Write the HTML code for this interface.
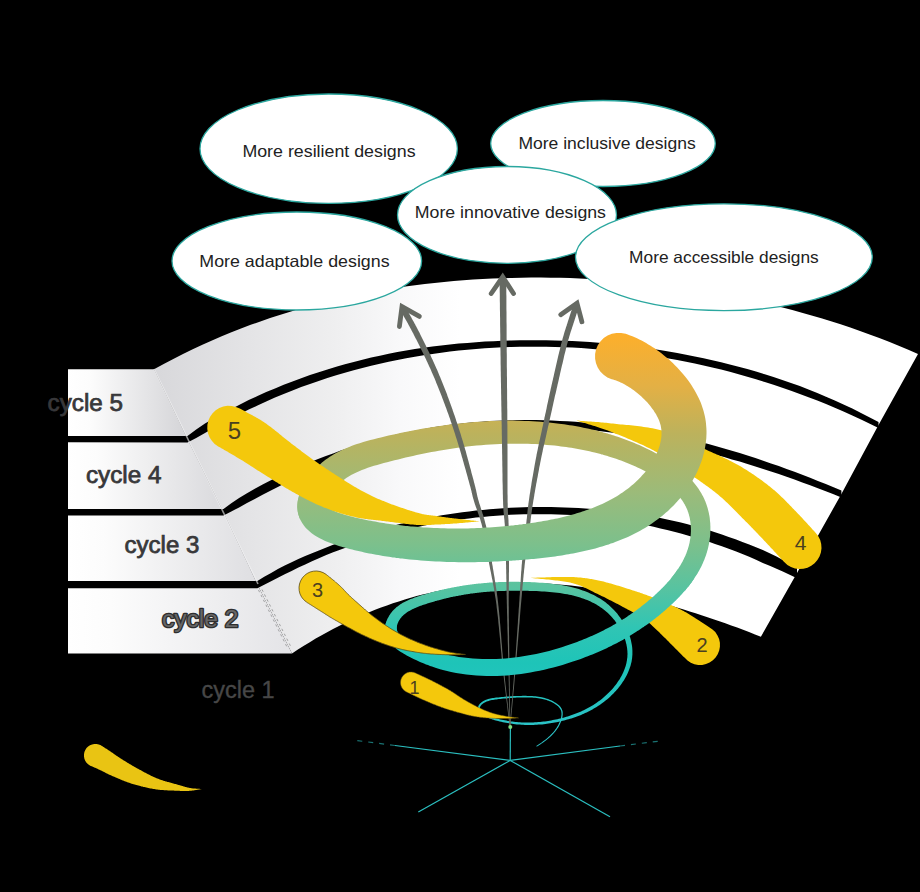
<!DOCTYPE html><html><head><meta charset="utf-8"><title>Design cycles</title><style>html,body{margin:0;padding:0;background:#000}</style></head><body><svg width="920" height="892" viewBox="0 0 920 892" style="display:block">
<defs>
<linearGradient id="sp" gradientUnits="userSpaceOnUse" x1="0" y1="335" x2="0" y2="730"><stop offset="0" stop-color="#fcaf2c"/><stop offset="0.13" stop-color="#e3b045"/><stop offset="0.25" stop-color="#bcb25c"/><stop offset="0.40" stop-color="#9bbb7a"/><stop offset="0.53" stop-color="#7cc08c"/><stop offset="0.64" stop-color="#58c3a0"/><stop offset="0.74" stop-color="#30c5b4"/><stop offset="0.83" stop-color="#1ec4b8"/><stop offset="1" stop-color="#2cc3c8"/></linearGradient>
<linearGradient id="ga0" gradientUnits="userSpaceOnUse" x1="150" y1="0" x2="460" y2="0"><stop offset="0" stop-color="#d7d7da"/><stop offset="0.32" stop-color="#e4e4e6"/><stop offset="0.58" stop-color="#eeeeef"/><stop offset="0.81" stop-color="#f9f9fa"/><stop offset="1" stop-color="#ffffff"/></linearGradient>
<linearGradient id="gr0" gradientUnits="userSpaceOnUse" x1="68" y1="0" x2="179" y2="0"><stop offset="0" stop-color="#ffffff"/><stop offset="0.2" stop-color="#fcfcfc"/><stop offset="1" stop-color="#d7d7da"/></linearGradient>
<linearGradient id="ga1" gradientUnits="userSpaceOnUse" x1="150" y1="0" x2="460" y2="0"><stop offset="0" stop-color="#d7d7da"/><stop offset="0.32" stop-color="#e4e4e6"/><stop offset="0.58" stop-color="#eeeeef"/><stop offset="0.81" stop-color="#f9f9fa"/><stop offset="1" stop-color="#ffffff"/></linearGradient>
<linearGradient id="gr1" gradientUnits="userSpaceOnUse" x1="68" y1="0" x2="214" y2="0"><stop offset="0" stop-color="#ffffff"/><stop offset="0.2" stop-color="#fcfcfc"/><stop offset="1" stop-color="#dcdcdf"/></linearGradient>
<linearGradient id="ga2" gradientUnits="userSpaceOnUse" x1="150" y1="0" x2="460" y2="0"><stop offset="0" stop-color="#d7d7da"/><stop offset="0.32" stop-color="#e4e4e6"/><stop offset="0.58" stop-color="#eeeeef"/><stop offset="0.81" stop-color="#f9f9fa"/><stop offset="1" stop-color="#ffffff"/></linearGradient>
<linearGradient id="gr2" gradientUnits="userSpaceOnUse" x1="68" y1="0" x2="248" y2="0"><stop offset="0" stop-color="#ffffff"/><stop offset="0.2" stop-color="#fcfcfc"/><stop offset="1" stop-color="#e0e0e3"/></linearGradient>
<linearGradient id="ga3" gradientUnits="userSpaceOnUse" x1="150" y1="0" x2="460" y2="0"><stop offset="0" stop-color="#d7d7da"/><stop offset="0.32" stop-color="#e4e4e6"/><stop offset="0.58" stop-color="#eeeeef"/><stop offset="0.81" stop-color="#f9f9fa"/><stop offset="1" stop-color="#ffffff"/></linearGradient>
<linearGradient id="gr3" gradientUnits="userSpaceOnUse" x1="68" y1="0" x2="283" y2="0"><stop offset="0" stop-color="#ffffff"/><stop offset="0.2" stop-color="#fcfcfc"/><stop offset="1" stop-color="#e5e5e8"/></linearGradient>
</defs>
<rect width="920" height="892" fill="#000"/>
<g id="bands">
<path d="M154.0,369.3 L163.7,364.0 L173.3,358.9 L183.0,354.0 L192.7,349.3 L202.4,344.7 L212.0,340.4 L221.7,336.2 L231.4,332.3 L241.0,328.5 L250.7,324.8 L260.4,321.4 L270.1,318.1 L279.7,314.9 L289.4,311.9 L299.1,309.1 L308.7,306.3 L318.4,303.8 L328.1,301.4 L337.7,299.1 L347.4,296.9 L357.1,294.9 L366.8,293.0 L376.4,291.2 L386.1,289.5 L395.8,288.0 L405.4,286.6 L415.1,285.2 L424.8,284.0 L434.5,282.9 L444.1,282.0 L453.8,281.1 L463.5,280.3 L473.1,279.6 L482.8,279.0 L492.5,278.6 L502.2,278.2 L511.8,277.9 L521.5,277.7 L531.2,277.6 L540.8,277.6 L550.5,277.7 L560.2,277.8 L569.8,278.1 L579.5,278.5 L589.2,278.9 L598.9,279.5 L608.5,280.1 L618.2,280.8 L627.9,281.6 L637.5,282.5 L647.2,283.5 L656.9,284.6 L666.6,285.8 L676.2,287.1 L685.9,288.4 L695.6,289.9 L705.2,291.4 L714.9,293.1 L724.6,294.9 L734.3,296.7 L743.9,298.7 L753.6,300.7 L763.3,302.9 L772.9,305.2 L782.6,307.6 L792.3,310.1 L801.9,312.7 L811.6,315.4 L821.3,318.3 L831.0,321.2 L840.6,324.3 L850.3,327.5 L860.0,330.9 L869.6,334.4 L879.3,338.0 L889.0,341.8 L898.7,345.7 L908.3,349.8 L918.0,354.0 L878.5,425.0 L869.8,420.5 L861.0,416.2 L852.3,412.0 L843.5,408.0 L834.8,404.1 L826.0,400.4 L817.3,396.8 L808.5,393.4 L799.8,390.1 L791.0,386.9 L782.3,383.8 L773.5,380.9 L764.8,378.1 L756.0,375.4 L747.3,372.9 L738.6,370.5 L729.8,368.1 L721.1,365.9 L712.3,363.8 L703.6,361.8 L694.8,360.0 L686.1,358.2 L677.3,356.5 L668.6,355.0 L659.8,353.5 L651.1,352.2 L642.3,350.9 L633.6,349.7 L624.8,348.7 L616.1,347.7 L607.3,346.8 L598.6,346.1 L589.9,345.4 L581.1,344.8 L572.4,344.4 L563.6,344.0 L554.9,343.7 L546.1,343.5 L537.4,343.4 L528.6,343.4 L519.9,343.5 L511.1,343.7 L502.4,344.0 L493.6,344.5 L484.9,345.0 L476.1,345.6 L467.4,346.3 L458.7,347.1 L449.9,348.1 L441.2,349.1 L432.4,350.3 L423.7,351.5 L414.9,352.9 L406.2,354.4 L397.4,356.1 L388.7,357.8 L379.9,359.7 L371.2,361.7 L362.4,363.8 L353.7,366.1 L344.9,368.5 L336.2,371.0 L327.4,373.7 L318.7,376.5 L310.0,379.5 L301.2,382.6 L292.5,385.9 L283.7,389.4 L275.0,393.0 L266.2,396.8 L257.5,400.8 L248.7,404.9 L240.0,409.2 L231.2,413.7 L222.5,418.4 L213.7,423.3 L205.0,428.4 L196.2,433.7 L187.5,439.2Z" fill="url(#ga0)"/>
<path d="M68,369.3 L154.0,369.3 L187.5,439.2 L68,439.2Z" fill="url(#gr0)"/>
<path d="M187.5,439.2 L196.2,433.7 L205.0,428.4 L213.7,423.3 L222.5,418.4 L231.2,413.7 L240.0,409.2 L248.7,404.9 L257.5,400.8 L266.2,396.8 L275.0,393.0 L283.7,389.4 L292.5,385.9 L301.2,382.6 L310.0,379.5 L318.7,376.5 L327.4,373.7 L336.2,371.0 L344.9,368.5 L353.7,366.1 L362.4,363.8 L371.2,361.7 L379.9,359.7 L388.7,357.8 L397.4,356.1 L406.2,354.4 L414.9,352.9 L423.7,351.5 L432.4,350.3 L441.2,349.1 L449.9,348.1 L458.7,347.1 L467.4,346.3 L476.1,345.6 L484.9,345.0 L493.6,344.5 L502.4,344.0 L511.1,343.7 L519.9,343.5 L528.6,343.4 L537.4,343.4 L546.1,343.5 L554.9,343.7 L563.6,344.0 L572.4,344.4 L581.1,344.8 L589.9,345.4 L598.6,346.1 L607.3,346.8 L616.1,347.7 L624.8,348.7 L633.6,349.7 L642.3,350.9 L651.1,352.2 L659.8,353.5 L668.6,355.0 L677.3,356.5 L686.1,358.2 L694.8,360.0 L703.6,361.8 L712.3,363.8 L721.1,365.9 L729.8,368.1 L738.6,370.5 L747.3,372.9 L756.0,375.4 L764.8,378.1 L773.5,380.9 L782.3,383.8 L791.0,386.9 L799.8,390.1 L808.5,393.4 L817.3,396.8 L826.0,400.4 L834.8,404.1 L843.5,408.0 L852.3,412.0 L861.0,416.2 L869.8,420.5 L878.5,425.0 L841.4,494.0 L833.6,490.8 L825.8,487.6 L817.9,484.6 L810.1,481.5 L802.3,478.6 L794.5,475.7 L786.6,472.9 L778.8,470.1 L771.0,467.4 L763.2,464.8 L755.4,462.3 L747.5,459.8 L739.7,457.4 L731.9,455.0 L724.1,452.8 L716.3,450.6 L708.4,448.5 L700.6,446.4 L692.8,444.5 L685.0,442.6 L677.1,440.8 L669.3,439.1 L661.5,437.5 L653.7,435.9 L645.9,434.5 L638.0,433.1 L630.2,431.8 L622.4,430.6 L614.6,429.5 L606.8,428.4 L598.9,427.5 L591.1,426.6 L583.3,425.9 L575.5,425.2 L567.6,424.7 L559.8,424.2 L552.0,423.8 L544.2,423.6 L536.4,423.4 L528.5,423.3 L520.7,423.4 L512.9,423.5 L505.1,423.7 L497.3,424.1 L489.4,424.5 L481.6,425.1 L473.8,425.8 L466.0,426.6 L458.1,427.4 L450.3,428.4 L442.5,429.6 L434.7,430.8 L426.9,432.1 L419.0,433.6 L411.2,435.2 L403.4,436.9 L395.6,438.7 L387.8,440.7 L379.9,442.8 L372.1,445.0 L364.3,447.3 L356.5,449.7 L348.6,452.3 L340.8,455.0 L333.0,457.9 L325.2,460.9 L317.4,464.0 L309.5,467.2 L301.7,470.6 L293.9,474.1 L286.1,477.8 L278.3,481.6 L270.4,485.5 L262.6,489.6 L254.8,493.8 L247.0,498.2 L239.1,502.7 L231.3,507.4 L223.5,512.2Z" fill="url(#ga1)"/>
<path d="M68,439.2 L187.5,439.2 L223.5,512.2 L68,512.2Z" fill="url(#gr1)"/>
<path d="M223.5,512.2 L231.3,507.4 L239.1,502.7 L247.0,498.2 L254.8,493.8 L262.6,489.6 L270.4,485.5 L278.3,481.6 L286.1,477.8 L293.9,474.1 L301.7,470.6 L309.5,467.2 L317.4,464.0 L325.2,460.9 L333.0,457.9 L340.8,455.0 L348.6,452.3 L356.5,449.7 L364.3,447.3 L372.1,445.0 L379.9,442.8 L387.8,440.7 L395.6,438.7 L403.4,436.9 L411.2,435.2 L419.0,433.6 L426.9,432.1 L434.7,430.8 L442.5,429.6 L450.3,428.4 L458.1,427.4 L466.0,426.6 L473.8,425.8 L481.6,425.1 L489.4,424.5 L497.3,424.1 L505.1,423.7 L512.9,423.5 L520.7,423.4 L528.5,423.3 L536.4,423.4 L544.2,423.6 L552.0,423.8 L559.8,424.2 L567.6,424.7 L575.5,425.2 L583.3,425.9 L591.1,426.6 L598.9,427.5 L606.8,428.4 L614.6,429.5 L622.4,430.6 L630.2,431.8 L638.0,433.1 L645.9,434.5 L653.7,435.9 L661.5,437.5 L669.3,439.1 L677.1,440.8 L685.0,442.6 L692.8,444.5 L700.6,446.4 L708.4,448.5 L716.3,450.6 L724.1,452.8 L731.9,455.0 L739.7,457.4 L747.5,459.8 L755.4,462.3 L763.2,464.8 L771.0,467.4 L778.8,470.1 L786.6,472.9 L794.5,475.7 L802.3,478.6 L810.1,481.5 L817.9,484.6 L825.8,487.6 L833.6,490.8 L841.4,494.0 L797.0,573.0 L790.2,569.4 L783.3,566.0 L776.5,562.7 L769.7,559.5 L762.8,556.4 L756.0,553.5 L749.2,550.6 L742.4,547.9 L735.5,545.3 L728.7,542.8 L721.9,540.4 L715.0,538.1 L708.2,535.9 L701.4,533.8 L694.5,531.8 L687.7,529.9 L680.9,528.1 L674.1,526.4 L667.2,524.8 L660.4,523.2 L653.6,521.8 L646.7,520.5 L639.9,519.2 L633.1,518.1 L626.2,517.0 L619.4,516.0 L612.6,515.1 L605.7,514.3 L598.9,513.5 L592.1,512.9 L585.3,512.3 L578.4,511.8 L571.6,511.4 L564.8,511.1 L557.9,510.8 L551.1,510.7 L544.3,510.6 L537.4,510.6 L530.6,510.6 L523.8,510.8 L517.0,511.0 L510.1,511.3 L503.3,511.7 L496.5,512.2 L489.6,512.7 L482.8,513.4 L476.0,514.1 L469.1,514.9 L462.3,515.7 L455.5,516.7 L448.7,517.7 L441.8,518.8 L435.0,520.0 L428.2,521.3 L421.3,522.7 L414.5,524.2 L407.7,525.7 L400.8,527.3 L394.0,529.1 L387.2,530.9 L380.3,532.8 L373.5,534.8 L366.7,536.9 L359.9,539.1 L353.0,541.4 L346.2,543.8 L339.4,546.2 L332.5,548.8 L325.7,551.5 L318.9,554.3 L312.0,557.2 L305.2,560.3 L298.4,563.4 L291.6,566.6 L284.7,570.0 L277.9,573.5 L271.1,577.1 L264.2,580.8 L257.4,584.6Z" fill="url(#ga2)"/>
<path d="M68,512.2 L223.5,512.2 L257.4,584.6 L68,584.6Z" fill="url(#gr2)"/>
<path d="M257.4,584.6 L264.2,580.8 L271.1,577.1 L277.9,573.5 L284.7,570.0 L291.6,566.6 L298.4,563.4 L305.2,560.3 L312.0,557.2 L318.9,554.3 L325.7,551.5 L332.5,548.8 L339.4,546.2 L346.2,543.8 L353.0,541.4 L359.9,539.1 L366.7,536.9 L373.5,534.8 L380.3,532.8 L387.2,530.9 L394.0,529.1 L400.8,527.3 L407.7,525.7 L414.5,524.2 L421.3,522.7 L428.2,521.3 L435.0,520.0 L441.8,518.8 L448.7,517.7 L455.5,516.7 L462.3,515.7 L469.1,514.9 L476.0,514.1 L482.8,513.4 L489.6,512.7 L496.5,512.2 L503.3,511.7 L510.1,511.3 L517.0,511.0 L523.8,510.8 L530.6,510.6 L537.4,510.6 L544.3,510.6 L551.1,510.7 L557.9,510.8 L564.8,511.1 L571.6,511.4 L578.4,511.8 L585.3,512.3 L592.1,512.9 L598.9,513.5 L605.7,514.3 L612.6,515.1 L619.4,516.0 L626.2,517.0 L633.1,518.1 L639.9,519.2 L646.7,520.5 L653.6,521.8 L660.4,523.2 L667.2,524.8 L674.1,526.4 L680.9,528.1 L687.7,529.9 L694.5,531.8 L701.4,533.8 L708.2,535.9 L715.0,538.1 L721.9,540.4 L728.7,542.8 L735.5,545.3 L742.4,547.9 L749.2,550.6 L756.0,553.5 L762.8,556.4 L769.7,559.5 L776.5,562.7 L783.3,566.0 L790.2,569.4 L797.0,573.0 L760.9,636.7 L755.0,634.4 L749.0,632.1 L743.1,629.8 L737.2,627.6 L731.2,625.4 L725.3,623.3 L719.4,621.2 L713.4,619.2 L707.5,617.2 L701.5,615.2 L695.6,613.3 L689.7,611.4 L683.7,609.6 L677.8,607.8 L671.9,606.1 L665.9,604.4 L660.0,602.8 L654.1,601.2 L648.1,599.7 L642.2,598.3 L636.3,596.9 L630.3,595.5 L624.4,594.2 L618.4,593.0 L612.5,591.9 L606.6,590.8 L600.6,589.7 L594.7,588.8 L588.8,587.9 L582.8,587.1 L576.9,586.3 L571.0,585.6 L565.0,585.0 L559.1,584.5 L553.2,584.0 L547.2,583.6 L541.3,583.3 L535.4,583.0 L529.4,582.9 L523.5,582.8 L517.5,582.8 L511.6,582.9 L505.7,583.0 L499.7,583.3 L493.8,583.6 L487.9,584.0 L481.9,584.5 L476.0,585.1 L470.1,585.8 L464.1,586.6 L458.2,587.4 L452.3,588.4 L446.3,589.4 L440.4,590.6 L434.5,591.8 L428.5,593.2 L422.6,594.6 L416.6,596.1 L410.7,597.8 L404.8,599.5 L398.8,601.4 L392.9,603.3 L387.0,605.4 L381.0,607.5 L375.1,609.8 L369.2,612.2 L363.2,614.7 L357.3,617.3 L351.4,620.0 L345.4,622.8 L339.5,625.7 L333.5,628.8 L327.6,632.0 L321.7,635.2 L315.7,638.6 L309.8,642.2 L303.9,645.8 L297.9,649.6 L292.0,653.5Z" fill="url(#ga3)"/>
<path d="M68,584.6 L257.4,584.6 L292.0,653.5 L68,653.5Z" fill="url(#gr3)"/>
<path d="M68.0,436.0 L187.5,436.0 L196.2,429.4 L205.0,423.6 L213.7,418.5 L222.5,413.6 L231.2,408.9 L240.0,404.4 L248.7,400.1 L257.5,396.0 L266.2,392.1 L275.0,388.4 L283.7,384.8 L292.5,381.4 L301.2,378.2 L310.0,375.1 L318.7,372.2 L327.4,369.4 L336.2,366.8 L344.9,364.3 L353.7,361.9 L362.4,359.7 L371.2,357.6 L379.9,355.7 L388.7,353.8 L397.4,352.1 L406.2,350.6 L414.9,349.1 L423.7,347.8 L432.4,346.6 L441.2,345.5 L449.9,344.5 L458.7,343.6 L467.4,342.9 L476.1,342.2 L484.9,341.6 L493.6,341.2 L502.4,340.8 L511.1,340.5 L519.9,340.3 L528.6,340.2 L537.4,340.2 L546.1,340.2 L554.9,340.4 L563.6,340.7 L572.4,341.1 L581.1,341.5 L589.9,342.1 L598.6,342.7 L607.3,343.5 L616.1,344.3 L624.8,345.3 L633.6,346.3 L642.3,347.5 L651.1,348.7 L659.8,350.1 L668.6,351.5 L677.3,353.0 L686.1,354.7 L694.8,356.4 L703.6,358.3 L712.3,360.2 L721.1,362.3 L729.8,364.4 L738.6,366.7 L747.3,369.1 L756.0,371.6 L764.8,374.3 L773.5,377.0 L782.3,379.9 L791.0,382.9 L799.8,386.1 L808.5,389.4 L817.3,393.0 L826.0,396.7 L834.8,400.5 L843.5,404.4 L852.3,408.6 L861.0,412.9 L869.8,417.4 L878.5,422.0 L878.5,428.0 L869.8,423.7 L861.0,419.5 L852.3,415.5 L843.5,411.6 L834.8,407.8 L826.0,404.1 L817.3,400.6 L808.5,397.3 L799.8,394.1 L791.0,390.8 L782.3,387.8 L773.5,384.8 L764.8,382.0 L756.0,379.3 L747.3,376.7 L738.6,374.2 L729.8,371.8 L721.1,369.6 L712.3,367.5 L703.6,365.4 L694.8,363.5 L686.1,361.7 L677.3,360.0 L668.6,358.4 L659.8,357.0 L651.1,355.6 L642.3,354.3 L633.6,353.1 L624.8,352.1 L616.1,351.1 L607.3,350.2 L598.6,349.4 L589.9,348.7 L581.1,348.1 L572.4,347.6 L563.6,347.3 L554.9,347.0 L546.1,346.8 L537.4,346.7 L528.6,346.7 L519.9,346.8 L511.1,346.9 L502.4,347.2 L493.6,347.7 L484.9,348.3 L476.1,349.0 L467.4,349.7 L458.7,350.6 L449.9,351.6 L441.2,352.7 L432.4,353.9 L423.7,355.3 L414.9,356.7 L406.2,358.3 L397.4,360.0 L388.7,361.8 L379.9,363.7 L371.2,365.7 L362.4,367.9 L353.7,370.2 L344.9,372.7 L336.2,375.3 L327.4,378.0 L318.7,380.9 L310.0,383.9 L301.2,387.1 L292.5,390.5 L283.7,394.0 L275.0,397.6 L266.2,401.5 L257.5,405.5 L248.7,409.6 L240.0,414.0 L231.2,418.5 L222.5,423.2 L213.7,428.1 L205.0,433.1 L196.2,437.9 L187.5,442.4 L68.0,442.3Z" fill="#000"/>
<path d="M68.0,509.1 L223.5,508.9 L231.3,503.3 L239.1,498.1 L247.0,493.3 L254.8,488.8 L262.6,484.5 L270.4,480.4 L278.3,476.5 L286.1,472.8 L293.9,469.2 L301.7,465.8 L309.5,462.5 L317.4,459.3 L325.2,456.3 L333.0,453.4 L340.8,450.6 L348.6,448.0 L356.5,445.5 L364.3,443.1 L372.1,440.8 L379.9,438.7 L387.8,436.7 L395.6,434.8 L403.4,433.0 L411.2,431.4 L419.0,429.9 L426.9,428.4 L434.7,427.1 L442.5,425.9 L450.3,424.8 L458.1,423.9 L466.0,423.0 L473.8,422.3 L481.6,421.7 L489.4,421.1 L497.3,420.7 L505.1,420.4 L512.9,420.2 L520.7,420.1 L528.5,420.1 L536.4,420.1 L544.2,420.3 L552.0,420.5 L559.8,420.9 L567.6,421.3 L575.5,421.8 L583.3,422.5 L591.1,423.2 L598.9,424.0 L606.8,424.9 L614.6,425.9 L622.4,427.0 L630.2,428.1 L638.0,429.3 L645.9,430.6 L653.7,432.0 L661.5,433.4 L669.3,435.0 L677.1,436.6 L685.0,438.3 L692.8,440.1 L700.6,442.0 L708.4,444.0 L716.3,446.2 L724.1,448.4 L731.9,450.7 L739.7,453.1 L747.5,455.6 L755.4,458.1 L763.2,460.7 L771.0,463.4 L778.8,466.1 L786.6,468.9 L794.5,471.8 L802.3,474.8 L810.1,477.8 L817.9,480.9 L825.8,484.0 L833.6,487.2 L841.4,490.5 L841.4,497.5 L833.6,494.3 L825.8,491.3 L817.9,488.2 L810.1,485.3 L802.3,482.4 L794.5,479.6 L786.6,476.8 L778.8,474.1 L771.0,471.5 L763.2,468.9 L755.4,466.4 L747.5,464.0 L739.7,461.6 L731.9,459.4 L724.1,457.1 L716.3,455.0 L708.4,452.9 L700.6,450.9 L692.8,448.9 L685.0,446.9 L677.1,445.0 L669.3,443.2 L661.5,441.5 L653.7,439.9 L645.9,438.3 L638.0,436.9 L630.2,435.5 L622.4,434.2 L614.6,433.0 L606.8,431.9 L598.9,431.0 L591.1,430.1 L583.3,429.3 L575.5,428.6 L567.6,428.1 L559.8,427.6 L552.0,427.2 L544.2,426.9 L536.4,426.7 L528.5,426.6 L520.7,426.6 L512.9,426.8 L505.1,427.1 L497.3,427.5 L489.4,427.9 L481.6,428.5 L473.8,429.3 L466.0,430.1 L458.1,431.0 L450.3,432.0 L442.5,433.2 L434.7,434.5 L426.9,435.9 L419.0,437.4 L411.2,439.0 L403.4,440.8 L395.6,442.7 L387.8,444.7 L379.9,446.8 L372.1,449.1 L364.3,451.5 L356.5,454.0 L348.6,456.7 L340.8,459.4 L333.0,462.4 L325.2,465.4 L317.4,468.6 L309.5,471.9 L301.7,475.4 L293.9,479.0 L286.1,482.8 L278.3,486.7 L270.4,490.7 L262.6,494.8 L254.8,498.9 L247.0,503.1 L239.1,507.4 L231.3,511.5 L223.5,515.5 L68.0,515.4Z" fill="#000"/>
<path d="M68.0,580.9 L257.4,580.9 L264.2,576.8 L271.1,572.9 L277.9,569.1 L284.7,565.6 L291.6,562.3 L298.4,559.1 L305.2,556.1 L312.0,553.2 L318.9,550.4 L325.7,547.8 L332.5,545.1 L339.4,542.5 L346.2,540.1 L353.0,537.7 L359.9,535.4 L366.7,533.3 L373.5,531.2 L380.3,529.2 L387.2,527.3 L394.0,525.5 L400.8,523.8 L407.7,522.2 L414.5,520.7 L421.3,519.2 L428.2,517.8 L435.0,516.5 L441.8,515.3 L448.7,514.2 L455.5,513.2 L462.3,512.2 L469.1,511.4 L476.0,510.6 L482.8,509.9 L489.6,509.2 L496.5,508.7 L503.3,508.2 L510.1,507.8 L517.0,507.5 L523.8,507.2 L530.6,507.1 L537.4,507.0 L544.3,507.0 L551.1,507.0 L557.9,507.2 L564.8,507.4 L571.6,507.7 L578.4,508.1 L585.3,508.6 L592.1,509.0 L598.9,509.6 L605.7,510.2 L612.6,510.9 L619.4,511.6 L626.2,512.5 L633.1,513.5 L639.9,514.5 L646.7,515.6 L653.6,516.8 L660.4,518.1 L667.2,519.5 L674.1,521.0 L680.9,522.6 L687.7,524.3 L694.5,526.2 L701.4,528.1 L708.2,530.1 L715.0,532.3 L721.9,534.5 L728.7,536.9 L735.5,539.3 L742.4,541.9 L749.2,544.5 L756.0,547.2 L762.8,550.0 L769.7,553.2 L776.5,556.6 L783.3,560.2 L790.2,563.9 L797.0,567.7 L797.0,578.2 L790.2,574.9 L783.3,571.8 L776.5,568.7 L769.7,565.8 L762.8,562.9 L756.0,559.8 L749.2,556.8 L742.4,554.0 L735.5,551.3 L728.7,548.7 L721.9,546.2 L715.0,543.9 L708.2,541.6 L701.4,539.5 L694.5,537.4 L687.7,535.5 L680.9,533.6 L674.1,531.8 L667.2,530.0 L660.4,528.4 L653.6,526.8 L646.7,525.3 L639.9,524.0 L633.1,522.7 L626.2,521.5 L619.4,520.3 L612.6,519.3 L605.7,518.4 L598.9,517.5 L592.1,516.7 L585.3,516.0 L578.4,515.5 L571.6,515.1 L564.8,514.8 L557.9,514.5 L551.1,514.3 L544.3,514.2 L537.4,514.2 L530.6,514.2 L523.8,514.3 L517.0,514.5 L510.1,514.8 L503.3,515.2 L496.5,515.7 L489.6,516.2 L482.8,516.9 L476.0,517.6 L469.1,518.4 L462.3,519.2 L455.5,520.2 L448.7,521.2 L441.8,522.3 L435.0,523.5 L428.2,524.8 L421.3,526.2 L414.5,527.7 L407.7,529.2 L400.8,530.8 L394.0,532.6 L387.2,534.4 L380.3,536.4 L373.5,538.4 L366.7,540.5 L359.9,542.7 L353.0,545.0 L346.2,547.4 L339.4,550.0 L332.5,552.6 L325.7,555.3 L318.9,558.2 L312.0,561.2 L305.2,564.4 L298.4,567.6 L291.6,571.0 L284.7,574.3 L277.9,577.8 L271.1,581.3 L264.2,584.7 L257.4,588.3 L68.0,588.3Z" fill="#000"/>
</g>
<path d="M154,369 L258,584" stroke="#f4f4f5" stroke-width="1.6" fill="none" opacity="0.6"/>
<path d="M258.5,590 L288,649 M262,589.5 L291.5,648" stroke="#555" stroke-width="0.6" stroke-dasharray="2.5 3" opacity="0.8" fill="none"/>
<g font-family="'Liberation Sans', sans-serif" font-size="23">
<text x="47.6" y="411.2" textLength="75.3" lengthAdjust="spacingAndGlyphs" fill="#38383a" stroke="#38383a" stroke-width="0.75">cycle 5</text>
<text x="86" y="483" textLength="75.4" lengthAdjust="spacingAndGlyphs" fill="#38383a" stroke="#38383a" stroke-width="0.75">cycle 4</text>
<text x="124.5" y="553" textLength="74.8" lengthAdjust="spacingAndGlyphs" fill="#38383a" stroke="#38383a" stroke-width="0.75">cycle 3</text>
<text x="162" y="626.5" textLength="76.5" lengthAdjust="spacingAndGlyphs" stroke="#2e2e2e" stroke-width="2.6" stroke-linejoin="round" paint-order="stroke" fill="#666">cycle 2</text>
<text x="201.6" y="698" textLength="72.9" lengthAdjust="spacingAndGlyphs" fill="#474747" stroke="#474747" stroke-width="0.35">cycle 1</text>
</g>
<g font-family="'Liberation Sans', sans-serif" font-size="16.5" fill="#222">
<ellipse cx="328.7" cy="148.7" rx="128.7" ry="54.7" fill="#fff" stroke="#2ba79f" stroke-width="1.3"/>
<text x="242.4" y="157.4" textLength="173.2" lengthAdjust="spacingAndGlyphs">More resilient designs</text>
<ellipse cx="603" cy="143.5" rx="112.3" ry="43" fill="#fff" stroke="#2ba79f" stroke-width="1.3"/>
<text x="518.4" y="148.6" textLength="177.4" lengthAdjust="spacingAndGlyphs">More inclusive designs</text>
<ellipse cx="296.8" cy="261" rx="124.8" ry="49" fill="#fff" stroke="#2ba79f" stroke-width="1.3"/>
<text x="199.3" y="267" textLength="190.3" lengthAdjust="spacingAndGlyphs">More adaptable designs</text>
<ellipse cx="507" cy="214.9" rx="109.5" ry="48.4" fill="#fff" stroke="#2ba79f" stroke-width="1.3"/>
<text x="414.8" y="218.3" textLength="191.2" lengthAdjust="spacingAndGlyphs">More innovative designs</text>
<ellipse cx="723.9" cy="257.2" rx="148.4" ry="53.4" fill="#fff" stroke="#2ba79f" stroke-width="1.3"/>
<text x="629.1" y="263.3" textLength="189.6" lengthAdjust="spacingAndGlyphs">More accessible designs</text>
</g>
<path d="M576.5,420.5 L577.9,421.0 L579.4,421.4 L580.8,421.9 L582.2,422.3 L583.5,422.7 L584.9,423.1 L586.3,423.6 L587.7,424.0 L589.0,424.4 L590.4,424.8 L591.8,425.2 L593.2,425.7 L594.6,426.1 L596.0,426.5 L597.4,427.0 L598.8,427.4 L600.2,427.9 L601.7,428.4 L603.2,428.9 L604.7,429.5 L606.2,430.0 L607.8,430.6 L609.4,431.2 L611.0,431.8 L612.7,432.5 L614.4,433.2 L616.2,433.9 L618.0,434.6 L619.9,435.3 L621.7,436.1 L623.6,436.8 L625.5,437.6 L627.5,438.4 L629.4,439.2 L631.3,440.0 L633.3,440.9 L635.2,441.7 L637.1,442.5 L639.0,443.4 L640.9,444.2 L642.8,445.1 L644.7,446.0 L646.5,446.9 L648.2,447.7 L650.0,448.6 L651.7,449.5 L653.3,450.3 L654.9,451.2 L656.5,452.1 L658.0,453.0 L659.6,453.9 L661.1,454.8 L662.7,455.8 L664.2,456.7 L665.8,457.7 L667.3,458.7 L668.8,459.7 L670.4,460.7 L671.9,461.8 L673.5,462.8 L675.0,463.9 L676.6,464.9 L678.1,466.0 L679.6,467.0 L681.1,468.1 L682.7,469.2 L684.2,470.2 L685.7,471.3 L687.2,472.3 L688.7,473.4 L690.2,474.4 L691.7,475.4 L693.2,476.4 L694.5,477.4 L695.9,478.3 L697.3,479.2 L698.6,480.1 L699.9,481.0 L701.1,481.9 L702.4,482.8 L703.6,483.7 L704.8,484.5 L706.0,485.4 L707.2,486.2 L708.3,487.1 L709.5,487.9 L710.6,488.8 L711.7,489.6 L712.8,490.4 L713.8,491.3 L714.9,492.1 L716.0,492.9 L717.0,493.8 L718.0,494.6 L719.1,495.5 L720.1,496.4 L721.1,497.2 L722.1,498.1 L723.1,499.1 L724.2,500.0 L725.2,500.9 L726.2,501.9 L727.2,502.8 L728.2,503.8 L729.2,504.8 L730.2,505.8 L731.2,506.8 L732.2,507.8 L733.2,508.7 L734.2,509.7 L735.2,510.7 L736.2,511.7 L737.2,512.7 L738.1,513.7 L739.1,514.7 L740.1,515.7 L741.1,516.7 L742.0,517.7 L743.0,518.7 L743.9,519.6 L744.8,520.5 L745.7,521.4 L746.6,522.2 L747.4,523.1 L748.3,524.0 L749.1,524.8 L750.0,525.7 L750.8,526.6 L751.6,527.4 L752.5,528.3 L753.3,529.2 L754.2,530.1 L755.0,530.9 L755.9,531.8 L756.7,532.7 L757.6,533.6 L758.4,534.5 L759.3,535.4 L760.1,536.3 L761.0,537.2 L761.9,538.1 L762.8,539.1 L763.6,540.0 L764.5,540.9 L765.4,541.8 L766.2,542.7 L767.0,543.5 L767.8,544.4 L768.6,545.3 L769.4,546.1 L770.2,547.0 L771.0,547.9 L771.9,548.7 L772.7,549.6 L773.5,550.5 L774.3,551.4 L775.1,552.3 L775.9,553.1 L776.7,554.0 L777.6,554.9 L778.4,555.8 L779.2,556.7 L780.0,557.6 L780.9,558.5 L781.7,559.4 L782.6,560.3 L783.4,561.2 L784.2,562.1 L787.4,564.9 L791.0,567.0 L795.0,568.4 L799.2,569.0 L803.4,568.7 L807.5,567.7 L811.3,565.8 L814.6,563.3 L817.4,560.1 L819.5,556.5 L820.9,552.5 L821.5,548.3 L821.2,544.1 L820.2,540.0 L818.3,536.2 L815.8,532.9 L814.9,532.0 L814.1,531.1 L813.3,530.2 L812.5,529.4 L811.7,528.5 L810.9,527.6 L810.1,526.7 L809.3,525.8 L808.4,524.9 L807.6,524.0 L806.8,523.1 L806.0,522.2 L805.1,521.3 L804.3,520.4 L803.4,519.5 L802.6,518.5 L801.7,517.6 L800.9,516.7 L800.0,515.8 L799.1,514.8 L798.2,513.9 L797.3,513.0 L796.4,512.0 L795.5,511.1 L794.6,510.2 L793.8,509.3 L792.9,508.4 L792.0,507.5 L791.2,506.6 L790.3,505.7 L789.4,504.8 L788.5,503.8 L787.6,502.9 L786.7,502.0 L785.7,501.0 L784.8,500.1 L783.8,499.1 L782.8,498.1 L781.8,497.2 L780.8,496.2 L779.8,495.2 L778.8,494.2 L777.7,493.3 L776.6,492.3 L775.5,491.3 L774.4,490.3 L773.2,489.4 L772.1,488.4 L770.9,487.5 L769.8,486.6 L768.6,485.7 L767.5,484.7 L766.3,483.8 L765.1,482.9 L763.8,482.0 L762.6,481.1 L761.3,480.1 L760.1,479.2 L758.8,478.3 L757.5,477.4 L756.2,476.4 L754.8,475.5 L753.5,474.6 L752.1,473.7 L750.8,472.8 L749.4,471.9 L748.0,471.0 L746.6,470.1 L745.2,469.2 L743.8,468.4 L742.4,467.5 L740.9,466.6 L739.5,465.8 L738.1,465.0 L736.6,464.2 L735.2,463.4 L733.8,462.7 L732.4,461.9 L731.0,461.2 L729.5,460.5 L728.1,459.8 L726.7,459.1 L725.3,458.4 L723.9,457.7 L722.5,457.1 L721.0,456.4 L719.6,455.8 L718.2,455.1 L716.7,454.5 L715.3,453.8 L713.8,453.2 L712.3,452.5 L710.8,451.8 L709.3,451.2 L707.8,450.5 L706.3,449.8 L704.8,449.1 L703.3,448.4 L701.7,447.6 L700.1,446.9 L698.5,446.1 L696.9,445.2 L695.2,444.4 L693.5,443.6 L691.8,442.7 L690.0,441.8 L688.3,441.0 L686.5,440.1 L684.6,439.2 L682.8,438.4 L680.9,437.5 L679.0,436.7 L677.1,435.8 L675.2,435.0 L673.2,434.2 L671.2,433.5 L669.2,432.8 L667.2,432.1 L665.2,431.4 L663.1,430.8 L661.0,430.2 L658.9,429.7 L656.8,429.2 L654.6,428.7 L652.5,428.3 L650.3,427.9 L648.1,427.5 L645.9,427.2 L643.7,426.9 L641.5,426.6 L639.4,426.3 L637.2,426.0 L635.0,425.8 L632.9,425.6 L630.7,425.3 L628.6,425.1 L626.5,424.9 L624.5,424.7 L622.5,424.5 L620.5,424.4 L618.5,424.2 L616.7,424.0 L614.8,423.8 L613.0,423.6 L611.2,423.4 L609.5,423.2 L607.8,423.0 L606.2,422.8 L604.5,422.7 L602.9,422.5 L601.4,422.4 L599.8,422.3 L598.3,422.1 L596.8,422.0 L595.4,421.9 L593.9,421.8 L592.4,421.7 L591.0,421.6 L589.6,421.5 L588.1,421.4 L586.7,421.3 L585.3,421.2 L583.9,421.1 L582.4,421.0 L581.0,420.9 L579.5,420.7 L578.0,420.6 L576.5,420.5Z" fill="#f4c80c"/>
<path d="M327.4,506.9 L327.1,506.3 L327.0,506.2 L326.9,506.2 L326.9,506.1 L326.8,506.0 L326.8,505.6 L326.8,505.4 L326.8,505.0 L326.8,504.4 L327.0,503.8 L327.1,503.1 L327.3,502.2 L327.6,501.4 L327.9,500.5 L328.3,499.5 L328.7,498.5 L329.2,497.6 L329.7,496.6 L330.2,495.6 L330.7,494.7 L331.6,493.1 L332.5,491.7 L333.5,490.4 L334.5,489.1 L335.5,487.8 L336.5,486.6 L337.6,485.4 L338.8,484.2 L339.9,483.1 L341.1,482.1 L342.4,481.0 L343.6,480.0 L345.0,479.0 L346.2,478.1 L348.7,476.6 L351.1,475.1 L353.7,473.7 L356.3,472.4 L359.1,471.2 L361.9,470.0 L364.8,468.9 L367.8,467.8 L370.9,466.8 L374.0,465.8 L377.2,464.9 L380.5,464.0 L383.8,463.1 L387.1,462.2 L390.8,461.2 L394.5,460.3 L398.2,459.4 L401.9,458.5 L405.6,457.6 L409.3,456.7 L413.0,455.9 L416.7,455.1 L420.4,454.3 L424.1,453.6 L427.8,452.8 L431.5,452.1 L435.2,451.4 L438.9,450.8 L443.6,450.0 L448.3,449.2 L453.0,448.5 L457.7,447.8 L462.4,447.2 L467.1,446.6 L471.8,446.1 L476.5,445.6 L481.2,445.2 L485.9,444.8 L490.6,444.5 L495.3,444.2 L499.9,444.0 L504.6,443.8 L508.5,443.7 L512.3,443.7 L516.2,443.7 L520.1,443.7 L523.9,443.7 L527.8,443.8 L531.6,443.9 L535.4,444.1 L539.3,444.3 L543.1,444.6 L546.9,444.9 L550.8,445.2 L554.6,445.6 L558.4,446.1 L561.0,446.4 L563.6,446.7 L566.2,447.1 L568.8,447.4 L571.4,447.8 L574.0,448.3 L576.6,448.7 L579.2,449.2 L581.8,449.7 L584.4,450.2 L586.9,450.7 L589.5,451.3 L592.1,451.9 L594.6,452.5 L595.6,452.8 L596.6,453.0 L597.6,453.3 L598.6,453.5 L599.6,453.8 L600.6,454.1 L601.6,454.4 L602.6,454.6 L603.6,454.9 L604.6,455.2 L605.6,455.5 L606.6,455.8 L607.6,456.1 L608.6,456.4 L611.1,457.2 L613.6,458.0 L616.1,458.8 L618.6,459.7 L621.0,460.6 L623.5,461.5 L625.9,462.5 L628.4,463.4 L630.8,464.5 L633.2,465.5 L635.6,466.6 L638.0,467.7 L640.4,468.8 L642.8,470.0 L644.8,471.0 L646.8,472.0 L648.8,473.1 L650.8,474.2 L652.7,475.3 L654.7,476.4 L656.6,477.6 L658.4,478.8 L660.3,480.0 L662.1,481.2 L663.8,482.4 L665.6,483.7 L667.2,485.0 L668.9,486.3 L670.1,487.3 L671.2,488.3 L672.4,489.4 L673.5,490.4 L674.6,491.4 L675.6,492.5 L676.7,493.6 L677.6,494.7 L678.6,495.8 L679.5,496.9 L680.4,498.0 L681.3,499.2 L682.1,500.3 L682.9,501.6 L683.4,502.3 L683.9,503.2 L684.4,504.0 L684.9,504.8 L685.3,505.7 L685.8,506.5 L686.2,507.4 L686.6,508.3 L687.0,509.2 L687.4,510.1 L687.7,511.0 L688.0,511.9 L688.4,512.8 L688.6,513.7 L688.9,514.6 L689.1,515.5 L689.4,516.4 L689.6,517.3 L689.8,518.3 L690.0,519.2 L690.1,520.2 L690.3,521.1 L690.4,522.1 L690.5,523.1 L690.6,524.1 L690.7,525.0 L690.8,526.0 L690.8,527.0 L690.9,527.8 L690.9,528.7 L690.9,529.5 L690.9,530.3 L690.9,531.1 L690.9,532.0 L690.8,532.8 L690.8,533.6 L690.7,534.4 L690.7,535.2 L690.6,536.1 L690.5,536.9 L690.4,537.7 L690.3,538.5 L690.1,539.4 L690.0,540.3 L689.8,541.1 L689.7,542.0 L689.5,542.9 L689.3,543.8 L689.1,544.6 L688.9,545.5 L688.6,546.4 L688.4,547.2 L688.1,548.1 L687.9,548.9 L687.6,549.8 L687.3,550.6 L687.0,551.5 L686.7,552.3 L686.4,553.2 L686.1,554.0 L685.7,554.8 L685.4,555.7 L685.0,556.5 L684.6,557.3 L684.2,558.1 L683.8,558.9 L683.4,559.8 L683.0,560.6 L682.6,561.4 L682.1,562.2 L681.7,563.0 L681.2,563.8 L680.7,564.7 L680.3,565.5 L679.8,566.3 L679.2,567.1 L678.7,567.9 L678.2,568.7 L677.7,569.5 L677.1,570.3 L676.6,571.1 L676.0,571.9 L675.4,572.7 L674.9,573.5 L674.2,574.3 L673.6,575.2 L672.9,576.0 L672.2,576.9 L671.6,577.7 L670.9,578.6 L685.1,590.5 L685.9,589.5 L686.6,588.6 L687.4,587.6 L688.2,586.7 L689.0,585.7 L689.7,584.7 L690.4,583.8 L691.1,582.9 L691.8,582.0 L692.4,581.1 L693.1,580.1 L693.8,579.2 L694.4,578.2 L695.0,577.3 L695.6,576.3 L696.3,575.3 L696.9,574.4 L697.5,573.4 L698.0,572.4 L698.6,571.4 L699.2,570.4 L699.7,569.4 L700.2,568.5 L700.8,567.5 L701.3,566.4 L701.8,565.4 L702.2,564.4 L702.7,563.4 L703.2,562.3 L703.6,561.3 L704.1,560.3 L704.5,559.2 L704.9,558.1 L705.3,557.1 L705.7,556.0 L706.1,554.9 L706.4,553.8 L706.8,552.7 L707.1,551.6 L707.4,550.5 L707.7,549.4 L708.0,548.3 L708.3,547.1 L708.5,546.0 L708.8,544.8 L709.0,543.7 L709.2,542.5 L709.4,541.4 L709.6,540.3 L709.7,539.2 L709.8,538.2 L710.0,537.1 L710.1,536.0 L710.2,535.0 L710.2,533.9 L710.3,532.8 L710.3,531.8 L710.4,530.7 L710.4,529.6 L710.4,528.5 L710.4,527.4 L710.4,526.3 L710.3,525.0 L710.3,523.7 L710.2,522.4 L710.0,521.1 L709.9,519.8 L709.8,518.5 L709.6,517.1 L709.4,515.8 L709.1,514.5 L708.9,513.3 L708.6,512.0 L708.3,510.7 L708.0,509.4 L707.6,508.1 L707.2,506.8 L706.8,505.5 L706.3,504.1 L705.9,502.9 L705.4,501.6 L704.8,500.3 L704.3,499.1 L703.7,497.8 L703.1,496.6 L702.5,495.4 L701.8,494.2 L701.2,493.0 L700.5,491.9 L699.7,490.7 L698.7,489.1 L697.6,487.5 L696.5,485.9 L695.3,484.4 L694.1,482.9 L692.9,481.4 L691.6,480.0 L690.3,478.6 L689.0,477.2 L687.6,475.8 L686.2,474.5 L684.8,473.2 L683.4,471.9 L681.9,470.6 L680.0,469.0 L678.0,467.4 L676.0,465.9 L673.9,464.4 L671.8,462.9 L669.7,461.5 L667.6,460.1 L665.4,458.8 L663.2,457.4 L661.1,456.2 L658.9,454.9 L656.7,453.7 L654.4,452.5 L652.2,451.3 L649.6,450.0 L647.0,448.7 L644.4,447.5 L641.8,446.3 L639.2,445.1 L636.5,444.0 L633.9,442.8 L631.2,441.8 L628.5,440.7 L625.9,439.7 L623.2,438.7 L620.5,437.8 L617.8,436.8 L615.1,436.0 L614.0,435.6 L613.0,435.3 L611.9,434.9 L610.8,434.6 L609.7,434.3 L608.6,433.9 L607.6,433.6 L606.5,433.3 L605.4,433.0 L604.3,432.7 L603.2,432.4 L602.1,432.1 L601.0,431.8 L599.9,431.5 L597.2,430.8 L594.5,430.1 L591.7,429.5 L588.9,428.8 L586.2,428.2 L583.4,427.7 L580.6,427.1 L577.9,426.6 L575.1,426.1 L572.3,425.6 L569.5,425.2 L566.8,424.7 L564.0,424.3 L561.2,424.0 L557.1,423.4 L553.1,423.0 L549.0,422.5 L544.9,422.2 L540.9,421.8 L536.8,421.5 L532.7,421.3 L528.6,421.1 L524.5,420.9 L520.5,420.8 L516.4,420.7 L512.3,420.6 L508.2,420.6 L504.1,420.7 L499.2,420.8 L494.2,420.9 L489.3,421.1 L484.3,421.4 L479.4,421.7 L474.5,422.1 L469.5,422.5 L464.6,422.9 L459.6,423.4 L454.7,424.0 L449.8,424.6 L444.8,425.3 L439.9,426.0 L435.0,426.7 L431.1,427.3 L427.2,428.0 L423.3,428.6 L419.5,429.3 L415.6,430.0 L411.7,430.8 L407.9,431.5 L404.0,432.3 L400.2,433.1 L396.3,433.9 L392.4,434.8 L388.6,435.6 L384.7,436.5 L380.9,437.4 L377.4,438.3 L373.9,439.2 L370.4,440.1 L366.8,441.0 L363.3,442.1 L359.7,443.2 L356.1,444.3 L352.6,445.6 L349.1,446.9 L345.5,448.4 L342.0,450.0 L338.6,451.7 L335.1,453.5 L331.9,455.5 L329.8,456.8 L327.8,458.2 L325.8,459.6 L323.9,461.0 L322.0,462.6 L320.2,464.2 L318.3,465.9 L316.5,467.6 L314.8,469.4 L313.1,471.3 L311.4,473.3 L309.8,475.4 L308.3,477.5 L306.8,479.6 L305.9,481.2 L304.9,482.7 L304.0,484.3 L303.2,485.9 L302.3,487.5 L301.5,489.2 L300.8,490.9 L300.1,492.7 L299.4,494.5 L298.9,496.3 L298.4,498.2 L297.9,500.2 L297.6,502.2 L297.4,504.4 L297.3,506.9 L297.5,509.5 L297.8,512.1 L298.4,514.6 L299.2,517.1 L299.9,518.8Z" fill="url(#sp)"/>
<path d="M397.0,630.4 L396.9,629.8 L396.8,629.3 L396.7,628.8 L396.7,628.3 L396.7,627.7 L396.7,627.0 L396.8,626.8 L396.8,626.5 L396.9,626.1 L397.0,625.8 L397.0,625.4 L397.1,625.0 L397.3,624.7 L397.4,624.3 L397.5,623.9 L397.7,623.5 L397.8,623.1 L398.0,622.7 L398.1,622.4 L398.3,622.0 L398.5,621.5 L398.8,621.1 L399.0,620.7 L399.2,620.2 L399.5,619.8 L399.8,619.4 L400.1,619.0 L400.3,618.6 L400.6,618.2 L401.0,617.8 L401.3,617.4 L401.6,617.0 L401.9,616.6 L402.3,616.3 L402.9,615.7 L403.5,615.1 L404.2,614.5 L404.8,613.9 L405.5,613.4 L406.2,612.9 L407.0,612.3 L407.8,611.8 L408.6,611.3 L409.4,610.9 L410.2,610.4 L411.1,609.9 L411.9,609.5 L412.8,609.0 L413.7,608.7 L414.5,608.3 L415.4,607.9 L416.2,607.5 L417.1,607.2 L418.0,606.8 L418.9,606.5 L419.8,606.1 L420.7,605.8 L421.7,605.5 L422.6,605.1 L423.5,604.8 L424.5,604.5 L425.4,604.2 L426.3,603.9 L427.2,603.6 L428.1,603.3 L429.0,603.0 L429.9,602.8 L430.8,602.5 L431.7,602.2 L432.6,601.9 L433.5,601.7 L434.4,601.4 L435.3,601.1 L436.2,600.9 L437.1,600.6 L438.0,600.4 L438.9,600.2 L439.8,599.9 L440.7,599.7 L441.6,599.5 L442.4,599.2 L443.3,599.0 L444.2,598.8 L445.1,598.6 L446.0,598.4 L446.8,598.1 L447.7,597.9 L448.6,597.7 L449.5,597.5 L450.4,597.3 L451.2,597.1 L452.1,596.9 L453.0,596.8 L453.9,596.6 L454.8,596.4 L455.7,596.2 L456.6,596.0 L457.5,595.9 L458.4,595.7 L459.3,595.5 L460.2,595.4 L461.1,595.2 L462.0,595.0 L462.9,594.9 L463.7,594.7 L464.6,594.6 L465.5,594.4 L466.4,594.3 L467.3,594.2 L468.2,594.0 L469.1,593.9 L470.0,593.8 L470.9,593.6 L471.7,593.5 L472.6,593.4 L473.5,593.3 L474.4,593.2 L475.3,593.1 L476.4,592.9 L477.4,592.8 L478.5,592.7 L479.6,592.6 L480.6,592.5 L481.7,592.3 L482.8,592.2 L483.9,592.1 L484.9,592.0 L486.0,591.9 L487.1,591.8 L488.1,591.8 L489.2,591.7 L490.3,591.6 L491.4,591.5 L492.5,591.4 L493.6,591.4 L494.7,591.3 L495.8,591.2 L496.9,591.2 L498.1,591.1 L499.2,591.1 L500.3,591.0 L501.4,591.0 L502.5,590.9 L503.6,590.9 L504.8,590.9 L505.9,590.8 L507.7,590.8 L509.5,590.7 L511.3,590.7 L513.1,590.7 L515.0,590.7 L516.8,590.7 L518.6,590.7 L520.4,590.7 L522.3,590.7 L524.1,590.7 L526.0,590.8 L527.8,590.8 L529.6,590.9 L531.5,590.9 L534.1,591.0 L536.7,591.1 L539.3,591.2 L541.9,591.4 L544.5,591.5 L547.1,591.7 L549.7,591.9 L552.2,592.2 L554.8,592.4 L557.3,592.7 L559.9,593.1 L562.4,593.5 L564.9,593.9 L567.4,594.3 L569.2,594.7 L571.1,595.1 L573.0,595.5 L574.8,596.0 L576.6,596.5 L578.4,597.0 L580.2,597.6 L582.0,598.2 L583.8,598.8 L585.5,599.4 L587.2,600.1 L588.9,600.8 L590.6,601.6 L592.2,602.4 L593.6,603.1 L595.0,603.8 L596.4,604.6 L597.8,605.4 L599.1,606.3 L600.4,607.2 L601.7,608.1 L603.0,609.0 L604.3,610.0 L605.5,611.0 L606.7,612.0 L607.9,613.1 L609.1,614.2 L610.3,615.4 L611.3,616.5 L612.4,617.7 L613.4,618.9 L614.4,620.1 L615.4,621.4 L616.3,622.7 L617.3,624.0 L618.2,625.3 L619.0,626.7 L619.8,628.1 L620.6,629.5 L621.4,630.9 L622.1,632.3 L622.8,633.8 L623.4,635.1 L623.9,636.4 L624.4,637.7 L624.9,639.0 L625.3,640.3 L625.7,641.6 L626.0,642.9 L626.4,644.3 L626.6,645.6 L626.9,646.9 L627.1,648.2 L627.2,649.5 L627.4,650.9 L627.4,652.2 L627.5,653.3 L627.5,654.4 L627.4,655.5 L627.4,656.6 L627.3,657.7 L627.1,658.8 L627.0,659.9 L626.8,661.0 L626.6,662.1 L626.4,663.2 L626.1,664.3 L625.8,665.4 L625.5,666.4 L625.1,667.5 L624.7,668.7 L624.2,669.9 L623.7,671.2 L623.2,672.4 L622.7,673.5 L622.1,674.7 L621.5,675.9 L620.8,677.1 L620.2,678.2 L619.5,679.4 L618.7,680.5 L618.0,681.6 L617.2,682.8 L616.4,683.9 L615.6,685.0 L614.7,686.1 L613.8,687.3 L612.8,688.4 L611.9,689.4 L610.9,690.5 L609.9,691.6 L608.9,692.6 L607.8,693.6 L606.8,694.6 L605.7,695.6 L604.6,696.6 L603.5,697.5 L602.4,698.4 L601.2,699.4 L599.9,700.4 L598.6,701.3 L597.3,702.3 L596.0,703.2 L594.7,704.0 L593.4,704.9 L592.0,705.7 L590.7,706.5 L589.3,707.3 L587.9,708.1 L586.5,708.8 L585.1,709.5 L583.7,710.2 L582.4,710.8 L581.1,711.4 L579.8,712.0 L578.5,712.5 L577.2,713.1 L575.9,713.6 L574.5,714.1 L573.2,714.6 L571.8,715.1 L570.4,715.5 L569.1,716.0 L567.7,716.4 L566.3,716.8 L564.9,717.3 L563.4,717.7 L561.9,718.1 L560.4,718.5 L558.9,718.8 L557.4,719.2 L555.8,719.5 L554.3,719.8 L552.8,720.1 L551.2,720.4 L549.7,720.7 L548.1,720.9 L546.6,721.2 L545.0,721.4 L543.5,721.6 L541.8,721.8 L540.1,722.0 L538.4,722.1 L536.7,722.2 L535.0,722.3 L533.3,722.4 L531.6,722.5 L530.0,722.5 L528.3,722.5 L526.6,722.5 L524.9,722.5 L523.3,722.5 L521.6,722.4 L519.9,722.3 L518.4,722.2 L516.9,722.1 L515.4,721.9 L513.9,721.7 L512.4,721.6 L510.9,721.4 L509.4,721.1 L507.9,720.9 L506.4,720.6 L504.8,720.3 L503.3,720.0 L501.8,719.7 L500.2,719.4 L498.6,719.0 L497.5,718.7 L496.4,718.4 L495.3,718.1 L494.1,717.8 L493.0,717.5 L491.9,717.1 L490.9,716.8 L489.8,716.3 L488.7,715.9 L487.7,715.4 L486.7,714.9 L485.7,714.4 L484.8,713.8 L483.9,713.2 L483.4,712.8 L483.0,712.4 L482.5,712.1 L482.1,711.7 L481.7,711.3 L481.4,710.9 L481.1,710.5 L480.8,710.1 L480.5,709.7 L480.3,709.3 L480.2,709.0 L480.0,708.6 L480.0,708.3 L479.9,707.9 L480.0,707.6 L480.0,707.2 L480.1,706.9 L480.3,706.5 L480.5,706.1 L480.7,705.8 L481.0,705.4 L481.3,705.0 L481.7,704.6 L482.1,704.3 L482.5,703.9 L482.9,703.6 L483.4,703.3 L483.9,702.9 L484.7,702.4 L485.7,702.0 L486.6,701.6 L487.6,701.2 L488.7,700.9 L489.7,700.6 L490.8,700.3 L491.9,700.1 L493.0,699.9 L494.1,699.7 L495.2,699.5 L496.4,699.4 L497.5,699.3 L498.6,699.1 L500.2,699.0 L501.8,698.8 L503.3,698.6 L504.8,698.5 L506.4,698.4 L507.8,698.2 L509.3,698.1 L510.8,698.0 L512.3,697.9 L513.7,697.8 L515.2,697.7 L516.7,697.6 L518.2,697.6 L519.7,697.5 L521.2,697.5 L522.7,697.4 L524.3,697.4 L525.8,697.4 L527.4,697.4 L528.9,697.5 L530.5,697.5 L532.1,697.6 L533.6,697.7 L535.2,697.8 L536.8,698.0 L538.3,698.2 L539.8,698.5 L541.4,698.7 L542.4,699.0 L543.5,699.2 L544.5,699.5 L545.6,699.8 L546.6,700.1 L547.6,700.4 L548.6,700.8 L549.6,701.2 L550.6,701.6 L551.5,702.1 L552.5,702.6 L553.4,703.1 L554.3,703.6 L555.2,704.2 L555.8,704.5 L556.3,704.9 L556.8,705.3 L557.3,705.7 L557.8,706.1 L558.3,706.6 L558.7,707.0 L559.1,707.5 L559.5,707.9 L559.9,708.4 L560.2,708.9 L560.5,709.4 L560.8,709.9 L561.0,710.5 L561.2,711.1 L561.3,711.8 L561.4,712.5 L561.5,713.2 L561.5,713.9 L561.5,714.6 L561.4,715.4 L561.3,716.1 L561.2,716.9 L561.0,717.7 L560.8,718.4 L560.6,719.2 L560.4,720.0 L560.1,720.7 L559.7,721.7 L559.3,722.7 L558.9,723.6 L558.5,724.5 L558.0,725.4 L557.5,726.3 L557.0,727.1 L556.5,728.0 L555.9,728.8 L555.3,729.6 L554.7,730.4 L554.1,731.2 L553.5,731.9 L552.8,732.7 L552.2,733.3 L551.6,734.0 L551.0,734.6 L550.3,735.3 L549.7,735.9 L549.0,736.5 L548.4,737.1 L547.7,737.7 L547.0,738.3 L546.3,738.9 L545.6,739.4 L544.9,740.0 L544.2,740.5 L543.4,741.1 L542.9,741.5 L542.4,741.8 L542.0,742.2 L541.5,742.5 L541.0,742.9 L540.5,743.2 L539.9,743.6 L539.4,743.9 L538.9,744.2 L538.4,744.6 L537.9,744.9 L537.4,745.3 L536.9,745.6 L536.4,745.9 L536.8,746.7 L537.4,746.3 L537.9,746.0 L538.4,745.7 L538.9,745.3 L539.4,745.0 L540.0,744.7 L540.5,744.3 L541.0,744.0 L541.5,743.6 L542.0,743.3 L542.5,742.9 L543.0,742.6 L543.5,742.2 L544.0,741.9 L544.7,741.3 L545.5,740.8 L546.2,740.2 L546.9,739.7 L547.6,739.1 L548.3,738.5 L549.0,737.9 L549.7,737.3 L550.4,736.7 L551.1,736.0 L551.7,735.4 L552.4,734.7 L553.0,734.1 L553.6,733.4 L554.3,732.6 L555.0,731.9 L555.6,731.1 L556.2,730.3 L556.8,729.5 L557.4,728.6 L558.0,727.7 L558.5,726.9 L559.0,726.0 L559.5,725.0 L560.0,724.1 L560.4,723.1 L560.8,722.2 L561.2,721.1 L561.5,720.4 L561.8,719.6 L562.0,718.8 L562.2,718.0 L562.4,717.1 L562.5,716.3 L562.6,715.5 L562.7,714.7 L562.7,713.9 L562.7,713.1 L562.7,712.3 L562.6,711.5 L562.4,710.8 L562.2,710.1 L561.9,709.4 L561.7,708.8 L561.3,708.2 L561.0,707.7 L560.6,707.1 L560.1,706.6 L559.7,706.1 L559.2,705.6 L558.7,705.1 L558.2,704.7 L557.6,704.2 L557.1,703.8 L556.5,703.4 L556.0,703.0 L555.0,702.4 L554.1,701.9 L553.1,701.3 L552.1,700.8 L551.1,700.3 L550.1,699.9 L549.1,699.5 L548.1,699.1 L547.0,698.7 L546.0,698.4 L544.9,698.1 L543.8,697.8 L542.7,697.5 L541.7,697.3 L540.1,697.0 L538.5,696.7 L536.9,696.5 L535.4,696.3 L533.8,696.2 L532.2,696.1 L530.6,696.0 L529.0,695.9 L527.4,695.9 L525.8,695.8 L524.3,695.8 L522.7,695.8 L521.2,695.9 L519.6,695.9 L518.1,696.0 L516.6,696.0 L515.1,696.1 L513.6,696.1 L512.2,696.2 L510.7,696.3 L509.2,696.4 L507.7,696.5 L506.2,696.6 L504.7,696.8 L503.2,696.9 L501.6,697.1 L500.0,697.2 L498.4,697.4 L497.3,697.5 L496.1,697.6 L495.0,697.8 L493.8,697.9 L492.7,698.1 L491.5,698.3 L490.4,698.5 L489.3,698.8 L488.1,699.1 L487.0,699.5 L486.0,699.8 L484.9,700.3 L483.9,700.8 L482.9,701.3 L482.3,701.7 L481.8,702.1 L481.3,702.4 L480.8,702.9 L480.3,703.3 L479.9,703.7 L479.5,704.2 L479.1,704.7 L478.8,705.2 L478.5,705.7 L478.3,706.2 L478.1,706.8 L478.0,707.4 L478.0,707.9 L478.0,708.5 L478.2,709.1 L478.3,709.6 L478.6,710.2 L478.8,710.7 L479.1,711.2 L479.5,711.7 L479.9,712.2 L480.3,712.7 L480.7,713.1 L481.2,713.5 L481.7,714.0 L482.2,714.4 L482.7,714.8 L483.7,715.5 L484.7,716.1 L485.7,716.7 L486.8,717.3 L487.9,717.8 L489.0,718.2 L490.1,718.7 L491.3,719.1 L492.4,719.5 L493.6,719.8 L494.7,720.2 L495.9,720.5 L497.0,720.8 L498.1,721.1 L499.7,721.5 L501.3,721.8 L502.9,722.2 L504.4,722.5 L506.0,722.8 L507.5,723.1 L509.0,723.3 L510.6,723.6 L512.1,723.8 L513.6,724.0 L515.2,724.2 L516.7,724.4 L518.2,724.5 L519.8,724.6 L521.5,724.7 L523.2,724.8 L524.9,724.9 L526.6,725.0 L528.3,725.0 L530.0,725.0 L531.7,725.0 L533.4,724.9 L535.2,724.8 L536.9,724.8 L538.6,724.6 L540.3,724.5 L542.1,724.4 L543.8,724.2 L545.4,724.0 L546.9,723.8 L548.5,723.6 L550.1,723.3 L551.7,723.1 L553.3,722.8 L554.8,722.5 L556.4,722.2 L558.0,721.9 L559.5,721.6 L561.1,721.2 L562.6,720.8 L564.2,720.4 L565.7,720.0 L567.1,719.6 L568.5,719.2 L570.0,718.8 L571.4,718.4 L572.8,717.9 L574.2,717.5 L575.6,717.0 L576.9,716.5 L578.3,716.0 L579.7,715.4 L581.1,714.9 L582.4,714.3 L583.8,713.7 L585.1,713.1 L586.6,712.4 L588.0,711.7 L589.5,711.0 L590.9,710.2 L592.4,709.4 L593.8,708.6 L595.2,707.8 L596.6,706.9 L598.0,706.1 L599.3,705.2 L600.7,704.2 L602.0,703.3 L603.4,702.3 L604.7,701.3 L605.9,700.3 L607.0,699.4 L608.2,698.4 L609.3,697.4 L610.4,696.4 L611.5,695.3 L612.6,694.3 L613.7,693.2 L614.7,692.1 L615.8,691.0 L616.8,689.8 L617.8,688.7 L618.7,687.5 L619.7,686.3 L620.5,685.2 L621.4,684.0 L622.2,682.8 L623.0,681.6 L623.8,680.4 L624.5,679.2 L625.2,678.0 L625.9,676.7 L626.6,675.5 L627.2,674.2 L627.8,672.9 L628.4,671.6 L628.9,670.3 L629.4,669.0 L629.8,667.8 L630.2,666.7 L630.6,665.5 L630.9,664.3 L631.2,663.1 L631.5,661.9 L631.7,660.7 L631.9,659.5 L632.1,658.3 L632.2,657.0 L632.3,655.8 L632.4,654.6 L632.4,653.3 L632.4,652.0 L632.4,650.6 L632.3,649.1 L632.2,647.6 L632.0,646.1 L631.8,644.7 L631.5,643.2 L631.2,641.7 L630.9,640.2 L630.5,638.8 L630.1,637.3 L629.6,635.9 L629.1,634.4 L628.5,633.0 L628.0,631.6 L627.3,629.9 L626.5,628.4 L625.8,626.8 L624.9,625.2 L624.1,623.7 L623.2,622.2 L622.3,620.7 L621.3,619.2 L620.3,617.8 L619.3,616.4 L618.2,615.0 L617.2,613.6 L616.0,612.3 L614.9,611.0 L613.7,609.7 L612.4,608.4 L611.1,607.2 L609.8,606.0 L608.5,604.8 L607.1,603.7 L605.8,602.6 L604.4,601.6 L602.9,600.6 L601.5,599.6 L600.0,598.6 L598.5,597.7 L597.0,596.9 L595.5,596.0 L593.7,595.1 L591.9,594.2 L590.1,593.4 L588.3,592.6 L586.4,591.8 L584.5,591.1 L582.6,590.4 L580.7,589.7 L578.8,589.1 L576.9,588.5 L574.9,588.0 L573.0,587.5 L571.0,587.0 L569.0,586.5 L566.4,586.0 L563.8,585.5 L561.1,585.0 L558.5,584.6 L555.8,584.2 L553.1,583.9 L550.5,583.6 L547.8,583.3 L545.1,583.1 L542.5,582.8 L539.8,582.7 L537.1,582.5 L534.5,582.3 L531.8,582.2 L529.9,582.1 L528.1,582.1 L526.2,582.0 L524.3,581.9 L522.4,581.9 L520.6,581.9 L518.7,581.8 L516.8,581.8 L515.0,581.8 L513.1,581.8 L511.2,581.8 L509.4,581.8 L507.5,581.9 L505.7,581.9 L504.5,581.9 L503.4,582.0 L502.2,582.0 L501.1,582.0 L499.9,582.1 L498.8,582.1 L497.6,582.2 L496.5,582.2 L495.4,582.3 L494.2,582.3 L493.1,582.4 L491.9,582.5 L490.8,582.6 L489.6,582.6 L488.5,582.7 L487.4,582.8 L486.3,582.9 L485.2,583.0 L484.1,583.1 L483.0,583.2 L481.9,583.3 L480.8,583.4 L479.7,583.5 L478.6,583.6 L477.5,583.7 L476.4,583.8 L475.3,584.0 L474.2,584.1 L473.3,584.2 L472.4,584.3 L471.5,584.4 L470.5,584.6 L469.6,584.7 L468.7,584.8 L467.8,584.9 L466.9,585.1 L465.9,585.2 L465.0,585.3 L464.1,585.5 L463.2,585.6 L462.3,585.8 L461.4,585.9 L460.4,586.1 L459.5,586.2 L458.6,586.4 L457.7,586.5 L456.7,586.7 L455.8,586.9 L454.9,587.1 L454.0,587.2 L453.0,587.4 L452.1,587.6 L451.2,587.8 L450.3,588.0 L449.3,588.2 L448.4,588.3 L447.5,588.5 L446.6,588.7 L445.7,588.9 L444.8,589.1 L443.8,589.4 L442.9,589.6 L442.0,589.8 L441.1,590.0 L440.2,590.2 L439.3,590.4 L438.4,590.7 L437.4,590.9 L436.5,591.1 L435.6,591.4 L434.7,591.6 L433.8,591.8 L432.8,592.1 L431.9,592.3 L431.0,592.6 L430.0,592.9 L429.1,593.1 L428.2,593.4 L427.2,593.6 L426.3,593.9 L425.3,594.2 L424.4,594.5 L423.5,594.7 L422.5,595.0 L421.5,595.3 L420.6,595.6 L419.6,595.9 L418.6,596.3 L417.6,596.6 L416.6,596.9 L415.6,597.3 L414.6,597.6 L413.6,598.0 L412.6,598.4 L411.6,598.7 L410.6,599.1 L409.6,599.5 L408.6,600.0 L407.6,600.4 L406.5,600.9 L405.5,601.4 L404.5,602.0 L403.4,602.5 L402.4,603.1 L401.4,603.7 L400.4,604.3 L399.5,605.0 L398.5,605.7 L397.6,606.4 L396.6,607.1 L395.7,607.9 L394.9,608.7 L394.3,609.2 L393.8,609.7 L393.3,610.2 L392.8,610.8 L392.3,611.3 L391.9,611.9 L391.4,612.5 L390.9,613.1 L390.5,613.7 L390.1,614.3 L389.7,614.9 L389.2,615.5 L388.9,616.2 L388.5,616.9 L388.2,617.4 L387.9,618.0 L387.6,618.6 L387.3,619.1 L387.1,619.7 L386.8,620.3 L386.6,620.9 L386.4,621.5 L386.2,622.1 L386.0,622.8 L385.8,623.4 L385.6,624.0 L385.5,624.7 L385.3,625.4 L385.1,626.6 L385.0,627.8 L385.0,629.1 L385.0,630.4 L385.1,631.6 L385.3,632.6Z" fill="url(#sp)"/>
<path d="M530.4,577.8 L532.1,578.0 L533.9,578.2 L535.7,578.4 L537.5,578.6 L539.3,578.8 L541.1,579.0 L542.9,579.1 L544.7,579.3 L546.6,579.5 L548.4,579.6 L550.2,579.8 L552.0,580.0 L553.8,580.2 L555.6,580.4 L557.3,580.6 L559.0,580.8 L560.7,581.0 L562.4,581.3 L564.0,581.5 L565.6,581.8 L567.2,582.0 L568.7,582.3 L570.2,582.6 L571.6,583.0 L572.9,583.3 L574.3,583.7 L575.5,584.0 L576.7,584.4 L577.9,584.8 L579.0,585.2 L580.1,585.6 L581.2,586.0 L582.2,586.5 L583.2,586.9 L584.2,587.4 L585.2,587.8 L586.1,588.3 L587.1,588.8 L588.1,589.3 L589.1,589.8 L590.1,590.3 L591.1,590.8 L592.1,591.3 L593.2,591.8 L594.3,592.4 L595.4,592.9 L596.6,593.5 L597.8,594.1 L599.0,594.7 L600.2,595.2 L601.5,595.9 L602.7,596.5 L604.1,597.1 L605.4,597.8 L606.7,598.5 L608.1,599.2 L609.5,599.9 L610.9,600.6 L612.2,601.3 L613.6,602.0 L615.0,602.7 L616.4,603.4 L617.7,604.1 L619.0,604.8 L620.4,605.5 L621.7,606.2 L622.9,606.9 L624.1,607.6 L625.3,608.2 L626.5,608.8 L627.6,609.4 L628.7,610.0 L629.7,610.5 L630.7,611.1 L631.6,611.6 L632.5,612.0 L633.3,612.5 L634.1,612.9 L634.9,613.3 L635.6,613.7 L636.3,614.1 L637.0,614.5 L637.7,614.8 L638.3,615.2 L638.9,615.6 L639.6,615.9 L640.2,616.3 L640.8,616.7 L641.4,617.1 L642.0,617.5 L642.6,617.9 L643.3,618.3 L643.9,618.8 L644.6,619.3 L645.3,619.9 L646.1,620.4 L646.8,621.0 L647.6,621.6 L648.3,622.3 L649.1,622.9 L649.9,623.6 L650.7,624.3 L651.5,625.0 L652.2,625.7 L653.0,626.4 L653.8,627.2 L654.6,627.9 L655.4,628.7 L656.2,629.5 L657.0,630.2 L657.8,631.0 L658.7,631.8 L659.5,632.6 L660.3,633.4 L661.1,634.2 L661.9,635.1 L662.8,635.9 L663.6,636.7 L664.4,637.5 L665.3,638.3 L666.1,639.1 L666.9,639.9 L667.7,640.8 L668.6,641.6 L669.4,642.5 L670.3,643.4 L671.2,644.2 L672.1,645.2 L673.0,646.1 L673.9,647.0 L674.9,647.9 L675.8,648.9 L676.7,649.8 L677.7,650.8 L678.6,651.8 L679.6,652.7 L680.6,653.7 L681.6,654.7 L682.5,655.7 L683.5,656.7 L684.5,657.6 L685.5,658.6 L686.5,659.6 L687.5,660.6 L690.8,662.7 L694.4,664.2 L698.3,664.9 L702.2,664.9 L706.0,664.1 L709.6,662.5 L712.9,660.3 L715.6,657.5 L717.7,654.2 L719.2,650.6 L719.9,646.7 L719.9,642.8 L719.1,639.0 L717.5,635.4 L715.3,632.1 L712.5,629.4 L711.4,628.7 L710.3,628.0 L709.2,627.3 L708.1,626.6 L707.0,625.8 L705.9,625.1 L704.7,624.3 L703.6,623.6 L702.4,622.8 L701.3,622.0 L700.1,621.3 L699.0,620.5 L697.8,619.7 L696.6,619.0 L695.4,618.2 L694.3,617.4 L693.1,616.7 L691.9,615.9 L690.7,615.2 L689.5,614.5 L688.3,613.7 L687.1,613.0 L685.9,612.3 L684.7,611.7 L683.6,611.0 L682.4,610.4 L681.2,609.8 L680.1,609.2 L678.9,608.7 L677.8,608.1 L676.6,607.5 L675.4,607.0 L674.3,606.5 L673.1,606.0 L672.0,605.5 L670.9,605.0 L669.7,604.5 L668.6,604.0 L667.5,603.5 L666.4,603.1 L665.3,602.6 L664.2,602.2 L663.1,601.7 L662.1,601.3 L661.0,600.8 L660.0,600.4 L659.0,600.0 L657.9,599.6 L657.0,599.2 L656.0,598.8 L655.1,598.4 L654.2,598.0 L653.3,597.6 L652.4,597.3 L651.6,597.0 L650.7,596.6 L649.9,596.3 L649.1,596.0 L648.3,595.7 L647.5,595.4 L646.7,595.1 L645.9,594.8 L645.0,594.5 L644.2,594.2 L643.3,593.9 L642.5,593.6 L641.6,593.3 L640.6,593.0 L639.7,592.6 L638.7,592.3 L637.6,592.0 L636.5,591.6 L635.4,591.2 L634.2,590.8 L632.9,590.4 L631.6,590.0 L630.3,589.6 L628.9,589.1 L627.5,588.7 L626.0,588.2 L624.6,587.7 L623.1,587.3 L621.6,586.8 L620.1,586.3 L618.5,585.8 L617.0,585.4 L615.5,584.9 L613.9,584.4 L612.4,584.0 L610.9,583.6 L609.4,583.2 L607.9,582.7 L606.4,582.4 L605.0,582.0 L603.6,581.6 L602.2,581.3 L600.9,581.0 L599.7,580.8 L598.4,580.5 L597.2,580.2 L596.1,580.0 L594.9,579.8 L593.7,579.5 L592.6,579.3 L591.4,579.1 L590.3,578.9 L589.1,578.7 L588.0,578.5 L586.8,578.3 L585.6,578.2 L584.4,578.0 L583.2,577.9 L582.0,577.7 L580.7,577.6 L579.4,577.5 L578.1,577.4 L576.7,577.3 L575.3,577.2 L573.9,577.1 L572.4,577.0 L570.9,577.0 L569.3,576.9 L567.7,576.9 L566.1,576.9 L564.4,576.9 L562.7,576.9 L561.0,576.9 L559.2,576.9 L557.5,577.0 L555.7,577.0 L553.9,577.0 L552.1,577.1 L550.3,577.2 L548.5,577.2 L546.6,577.3 L544.8,577.4 L543.0,577.4 L541.1,577.5 L539.3,577.6 L537.5,577.6 L535.7,577.7 L533.9,577.7 L532.2,577.8 L530.4,577.8Z" fill="#f4c80c"/>
<path d="M510.3,727.0 L510.1,724.6 L509.8,722.2 L509.5,719.9 L509.3,717.5 L509.0,715.2 L508.7,712.9 L508.5,710.6 L508.2,708.3 L507.9,705.9 L507.7,703.6 L507.4,701.3 L507.1,699.0 L506.9,696.6 L506.6,694.3 L506.3,691.9 L506.1,689.5 L505.8,687.2 L505.5,684.8 L505.3,682.3 L505.0,679.9 L504.8,677.5 L504.5,675.0 L504.2,672.5 L504.0,669.9 L503.7,667.4 L503.5,664.7 L503.3,662.1 L503.0,659.3 L502.8,656.6 L502.6,653.7 L502.3,650.9 L502.1,648.1 L501.9,645.2 L501.6,642.3 L501.4,639.4 L501.2,636.6 L501.0,633.7 L500.7,630.9 L500.5,628.0 L500.3,625.3 L500.0,622.5 L499.8,619.8 L499.6,617.2 L499.3,614.6 L499.1,612.0 L498.8,609.6 L498.6,607.2 L498.3,604.9 L498.1,602.7 L497.8,600.5 L497.6,598.4 L497.3,596.3 L497.0,594.3 L496.8,592.4 L496.5,590.4 L496.2,588.6 L495.9,586.7 L495.7,584.9 L495.4,583.2 L495.1,581.4 L494.8,579.7 L494.6,578.0 L494.3,576.3 L494.0,574.7 L493.7,573.1 L493.5,571.4 L493.2,569.8 L492.9,568.2 L492.7,566.6 L492.4,565.0 L492.1,563.4 L491.9,561.8 L491.6,560.1 L491.4,558.5 L491.1,556.9 L490.9,555.4 L490.7,553.8 L490.5,552.2 L490.2,550.7 L490.0,549.2 L489.8,547.7 L489.6,546.2 L489.3,544.7 L489.1,543.2 L488.9,541.8 L488.7,540.3 L488.4,538.9 L488.2,537.5 L488.0,536.1 L487.7,534.7 L487.5,533.3 L487.2,531.9 L487.0,530.6 L486.7,529.2 L486.4,527.9 L486.2,526.6 L485.9,525.3 L485.5,523.9 L485.2,522.7 L484.9,521.4 L484.5,520.1 L484.2,518.8 L483.8,517.6 L483.5,516.3 L483.1,515.1 L482.7,513.9 L482.3,512.7 L482.0,511.6 L481.6,510.4 L481.2,509.3 L480.9,508.2 L480.5,507.1 L480.2,506.0 L479.9,505.0 L479.5,504.0 L479.2,503.0 L478.9,502.1 L478.7,501.1 L478.4,500.2 L478.2,499.4 L477.9,498.6 L477.8,497.8 L477.6,497.2 L477.4,496.6 L477.3,496.1 L477.2,495.6 L477.1,495.1 L477.0,494.7 L476.9,494.3 L476.9,494.0 L476.8,493.6 L476.7,493.2 L476.6,492.8 L476.5,492.3 L476.4,491.9 L476.3,491.3 L476.2,490.8 L476.1,490.2 L475.9,489.5 L475.7,488.7 L475.5,487.9 L475.3,486.9 L475.0,485.9 L474.7,484.8 L474.4,483.5 L474.0,482.2 L473.7,480.8 L473.3,479.2 L472.8,477.6 L472.4,476.0 L471.9,474.2 L471.4,472.4 L471.0,470.6 L470.5,468.7 L469.9,466.8 L469.4,464.8 L468.9,462.9 L468.4,460.9 L467.8,458.9 L467.3,457.0 L466.7,455.0 L466.2,453.1 L465.7,451.1 L465.1,449.3 L464.6,447.4 L464.1,445.6 L463.6,443.9 L463.1,442.2 L462.6,440.6 L462.1,439.0 L461.6,437.4 L461.2,435.9 L460.7,434.3 L460.2,432.8 L459.7,431.2 L459.2,429.7 L458.7,428.2 L458.3,426.7 L457.8,425.2 L457.3,423.8 L456.8,422.3 L456.3,420.9 L455.9,419.4 L455.4,418.0 L454.9,416.6 L454.4,415.1 L453.9,413.7 L453.4,412.3 L452.9,410.9 L452.5,409.5 L452.0,408.2 L451.5,406.8 L451.0,405.4 L450.5,404.0 L450.0,402.7 L449.5,401.3 L449.0,400.0 L448.5,398.6 L448.0,397.3 L447.5,396.0 L447.1,394.6 L446.6,393.3 L446.1,392.0 L445.6,390.7 L445.1,389.5 L444.6,388.2 L444.1,386.9 L443.6,385.7 L443.1,384.4 L442.6,383.2 L442.1,381.9 L441.6,380.7 L441.1,379.5 L440.6,378.3 L440.1,377.1 L439.6,375.9 L439.1,374.7 L438.6,373.6 L438.2,372.4 L437.7,371.3 L437.2,370.1 L436.7,369.0 L436.2,367.9 L435.7,366.8 L435.2,365.7 L434.7,364.6 L434.2,363.5 L433.8,362.5 L433.3,361.4 L432.8,360.3 L432.3,359.3 L431.8,358.2 L431.3,357.2 L430.8,356.1 L430.4,355.1 L429.9,354.1 L429.4,353.0 L428.9,352.0 L428.4,351.0 L427.9,350.0 L427.4,348.9 L426.9,347.9 L426.4,346.9 L425.9,345.8 L425.4,344.8 L424.9,343.8 L424.4,342.7 L423.9,341.7 L423.4,340.7 L422.9,339.7 L422.4,338.7 L421.9,337.7 L421.4,336.7 L420.9,335.7 L420.4,334.7 L420.0,333.8 L419.5,332.8 L419.0,331.8 L418.5,330.9 L418.0,330.0 L417.5,329.0 L417.0,328.1 L416.6,327.2 L416.1,326.3 L415.6,325.4 L415.2,324.6 L414.7,323.7 L414.3,322.9 L413.8,322.1 L413.4,321.3 L412.9,320.5 L412.5,319.7 L412.0,318.9 L411.6,318.1 L411.2,317.3 L410.7,316.6 L410.3,315.8 L409.9,315.1 L409.4,314.3 L409.0,313.6 L408.6,312.8 L408.2,312.1 L407.7,311.3 L407.3,310.6 L406.9,309.8 L406.4,309.1 L406.0,308.3 L405.6,307.6 L400.4,310.4 L400.9,311.2 L401.3,312.0 L401.7,312.8 L402.2,313.5 L402.6,314.3 L403.0,315.0 L403.5,315.8 L403.9,316.5 L404.3,317.3 L404.7,318.0 L405.2,318.8 L405.6,319.5 L406.0,320.3 L406.5,321.0 L406.9,321.8 L407.3,322.6 L407.8,323.3 L408.2,324.1 L408.6,324.9 L409.1,325.7 L409.5,326.5 L410.0,327.4 L410.4,328.2 L410.9,329.1 L411.4,330.0 L411.8,330.9 L412.3,331.8 L412.8,332.7 L413.3,333.6 L413.7,334.5 L414.2,335.5 L414.7,336.4 L415.2,337.4 L415.7,338.4 L416.2,339.3 L416.7,340.3 L417.2,341.3 L417.7,342.3 L418.2,343.3 L418.7,344.3 L419.2,345.3 L419.7,346.3 L420.2,347.3 L420.7,348.4 L421.2,349.4 L421.7,350.4 L422.2,351.4 L422.7,352.4 L423.2,353.5 L423.7,354.5 L424.2,355.5 L424.6,356.5 L425.1,357.6 L425.6,358.6 L426.1,359.6 L426.6,360.7 L427.1,361.7 L427.6,362.7 L428.0,363.8 L428.5,364.8 L429.0,365.9 L429.5,367.0 L430.0,368.0 L430.5,369.1 L431.0,370.2 L431.4,371.3 L431.9,372.4 L432.4,373.5 L432.9,374.7 L433.4,375.8 L433.9,376.9 L434.4,378.1 L434.9,379.3 L435.4,380.5 L435.9,381.7 L436.3,382.9 L436.8,384.1 L437.3,385.3 L437.8,386.5 L438.3,387.7 L438.8,389.0 L439.3,390.2 L439.8,391.5 L440.3,392.8 L440.8,394.1 L441.3,395.3 L441.8,396.6 L442.3,397.9 L442.8,399.2 L443.3,400.6 L443.8,401.9 L444.3,403.2 L444.8,404.6 L445.3,405.9 L445.8,407.3 L446.3,408.6 L446.8,410.0 L447.3,411.4 L447.8,412.8 L448.3,414.1 L448.8,415.5 L449.3,416.9 L449.8,418.3 L450.3,419.7 L450.7,421.2 L451.2,422.6 L451.7,424.0 L452.2,425.5 L452.7,426.9 L453.2,428.4 L453.7,429.9 L454.2,431.4 L454.7,432.9 L455.2,434.4 L455.6,435.9 L456.1,437.4 L456.6,439.0 L457.1,440.6 L457.6,442.2 L458.1,443.8 L458.6,445.4 L459.1,447.1 L459.7,448.9 L460.2,450.7 L460.7,452.6 L461.3,454.4 L461.8,456.4 L462.4,458.3 L462.9,460.3 L463.5,462.2 L464.0,464.2 L464.6,466.2 L465.1,468.1 L465.7,470.0 L466.2,471.9 L466.7,473.7 L467.2,475.5 L467.7,477.2 L468.1,478.9 L468.6,480.5 L469.0,482.0 L469.4,483.4 L469.7,484.8 L470.1,486.0 L470.4,487.1 L470.7,488.2 L470.9,489.1 L471.1,489.9 L471.3,490.6 L471.5,491.3 L471.6,491.9 L471.7,492.4 L471.8,492.9 L472.0,493.3 L472.0,493.7 L472.1,494.1 L472.2,494.5 L472.3,494.9 L472.4,495.3 L472.5,495.8 L472.6,496.2 L472.7,496.7 L472.9,497.2 L473.0,497.7 L473.2,498.4 L473.4,499.0 L473.6,499.8 L473.8,500.6 L474.1,501.5 L474.4,502.4 L474.7,503.4 L475.0,504.4 L475.4,505.4 L475.7,506.4 L476.1,507.4 L476.5,508.5 L476.8,509.5 L477.2,510.6 L477.6,511.8 L478.0,512.9 L478.4,514.0 L478.8,515.2 L479.2,516.4 L479.6,517.6 L480.0,518.8 L480.4,520.0 L480.7,521.2 L481.1,522.4 L481.5,523.7 L481.8,524.9 L482.1,526.2 L482.4,527.4 L482.8,528.7 L483.1,530.0 L483.3,531.3 L483.6,532.6 L483.9,534.0 L484.2,535.3 L484.5,536.7 L484.7,538.1 L485.0,539.5 L485.2,540.9 L485.5,542.3 L485.7,543.8 L486.0,545.2 L486.2,546.7 L486.5,548.2 L486.8,549.7 L487.0,551.2 L487.3,552.8 L487.5,554.3 L487.8,555.9 L488.1,557.4 L488.3,559.0 L488.6,560.6 L488.9,562.2 L489.2,563.9 L489.5,565.5 L489.8,567.1 L490.1,568.7 L490.4,570.3 L490.8,571.9 L491.1,573.5 L491.4,575.2 L491.7,576.8 L492.0,578.5 L492.4,580.1 L492.7,581.8 L493.0,583.6 L493.3,585.3 L493.7,587.1 L494.0,588.9 L494.3,590.8 L494.6,592.7 L494.9,594.6 L495.2,596.6 L495.6,598.7 L495.9,600.8 L496.2,602.9 L496.5,605.1 L496.7,607.4 L497.0,609.8 L497.3,612.2 L497.6,614.7 L497.9,617.3 L498.2,620.0 L498.4,622.7 L498.7,625.4 L499.0,628.2 L499.2,631.0 L499.5,633.8 L499.8,636.7 L500.1,639.6 L500.3,642.4 L500.6,645.3 L500.8,648.2 L501.1,651.0 L501.4,653.8 L501.6,656.7 L501.9,659.4 L502.2,662.2 L502.5,664.8 L502.7,667.5 L503.0,670.1 L503.3,672.6 L503.6,675.1 L503.8,677.6 L504.1,680.0 L504.4,682.4 L504.7,684.9 L504.9,687.3 L505.2,689.6 L505.5,692.0 L505.8,694.4 L506.0,696.7 L506.3,699.0 L506.6,701.4 L506.9,703.7 L507.2,706.0 L507.4,708.3 L507.7,710.7 L508.0,713.0 L508.3,715.3 L508.5,717.6 L508.8,720.0 L509.1,722.3 L509.4,724.7 L509.7,727.0Z" fill="#666a63"/>
<path d="M510.3,727.0 L510.3,724.6 L510.3,722.3 L510.2,719.9 L510.2,717.6 L510.2,715.3 L510.1,712.9 L510.1,710.6 L510.1,708.3 L510.0,706.0 L510.0,703.6 L510.0,701.3 L509.9,699.0 L509.9,696.7 L509.8,694.3 L509.8,692.0 L509.8,689.6 L509.7,687.2 L509.7,684.8 L509.7,682.4 L509.6,680.0 L509.6,677.5 L509.6,675.0 L509.5,672.5 L509.5,670.0 L509.5,667.4 L509.4,664.8 L509.4,662.1 L509.4,659.4 L509.3,656.6 L509.3,653.8 L509.2,651.0 L509.2,648.1 L509.2,645.2 L509.1,642.4 L509.1,639.5 L509.1,636.6 L509.0,633.8 L509.0,630.9 L509.0,628.1 L508.9,625.3 L508.9,622.6 L508.9,619.9 L508.8,617.2 L508.8,614.6 L508.8,612.1 L508.8,609.7 L508.8,607.3 L508.7,605.0 L508.7,602.8 L508.7,600.6 L508.7,598.5 L508.7,596.5 L508.7,594.5 L508.8,592.5 L508.8,590.6 L508.8,588.7 L508.8,586.9 L508.8,585.1 L508.8,583.4 L508.8,581.6 L508.9,579.9 L508.9,578.2 L508.9,576.6 L508.9,574.9 L508.9,573.3 L509.0,571.7 L509.0,570.0 L509.0,568.4 L509.0,566.8 L509.0,565.2 L509.0,563.6 L509.0,562.0 L509.0,560.4 L509.0,558.8 L509.0,557.2 L509.0,555.6 L509.0,554.0 L509.0,552.5 L509.0,550.9 L509.0,549.4 L509.0,547.9 L509.0,546.4 L508.9,544.9 L508.9,543.5 L508.9,542.0 L508.9,540.6 L508.9,539.1 L508.9,537.7 L508.9,536.3 L508.8,535.0 L508.8,533.6 L508.8,532.2 L508.8,530.9 L508.8,529.6 L508.7,528.2 L508.7,526.9 L508.7,525.7 L508.6,524.5 L508.6,523.4 L508.5,522.4 L508.5,521.4 L508.5,520.5 L508.4,519.6 L508.4,518.8 L508.3,518.0 L508.2,517.1 L508.2,516.3 L508.1,515.5 L508.1,514.6 L508.0,513.7 L508.0,512.7 L507.9,511.7 L507.9,510.6 L507.8,509.4 L507.8,508.1 L507.7,506.7 L507.7,505.2 L507.7,503.6 L507.6,501.9 L507.6,499.9 L507.6,497.9 L507.6,495.7 L507.5,493.4 L507.5,490.9 L507.5,488.4 L507.5,485.7 L507.5,483.0 L507.5,480.1 L507.5,477.2 L507.5,474.3 L507.5,471.3 L507.5,468.2 L507.5,465.1 L507.5,462.0 L507.5,458.8 L507.5,455.6 L507.5,452.5 L507.5,449.3 L507.5,446.2 L507.4,443.0 L507.4,440.0 L507.4,436.9 L507.4,433.9 L507.4,431.0 L507.4,428.1 L507.4,425.1 L507.3,422.2 L507.3,419.3 L507.3,416.4 L507.3,413.5 L507.3,410.5 L507.2,407.6 L507.2,404.7 L507.2,401.7 L507.1,398.8 L507.1,395.9 L507.1,392.9 L507.1,390.0 L507.0,387.0 L507.0,384.1 L507.0,381.2 L507.0,378.2 L506.9,375.3 L506.9,372.3 L506.9,369.4 L506.8,366.4 L506.8,363.5 L506.8,360.6 L506.8,357.6 L506.8,354.5 L506.7,351.3 L506.7,348.1 L506.7,344.8 L506.7,341.5 L506.6,338.2 L506.6,334.8 L506.6,331.4 L506.6,328.1 L506.6,324.8 L506.5,321.5 L506.5,318.3 L506.5,315.1 L506.5,312.0 L506.4,309.0 L506.4,306.1 L506.4,303.4 L506.4,300.7 L506.4,298.2 L506.4,295.9 L506.3,293.7 L506.3,291.7 L506.3,290.0 L506.3,288.4 L506.3,287.0 L506.3,285.8 L506.2,284.8 L506.2,283.9 L506.2,283.2 L506.2,282.6 L506.2,282.1 L506.2,281.7 L506.2,281.4 L506.1,281.1 L506.1,280.9 L506.1,280.6 L505.9,279.8 L504.2,278.1 L502.1,277.8 L504.2,278.1 L505.8,279.8 L506.0,280.5 L506.0,280.6 L506.0,280.6 L506.0,280.5 L506.0,280.2 L506.0,279.9 L499.4,280.1 L499.4,280.5 L499.4,280.8 L499.4,281.1 L499.5,281.3 L499.5,281.6 L499.7,282.3 L501.4,284.1 L503.4,284.3 L501.4,284.1 L499.7,282.3 L499.6,281.7 L499.5,281.5 L499.5,281.6 L499.5,281.7 L499.5,281.9 L499.6,282.3 L499.6,282.7 L499.6,283.3 L499.6,284.0 L499.6,284.9 L499.6,285.9 L499.7,287.1 L499.7,288.5 L499.7,290.0 L499.7,291.8 L499.8,293.8 L499.8,296.0 L499.8,298.3 L499.8,300.8 L499.9,303.4 L499.9,306.2 L499.9,309.1 L500.0,312.1 L500.0,315.2 L500.1,318.3 L500.1,321.6 L500.1,324.8 L500.2,328.2 L500.2,331.5 L500.3,334.9 L500.3,338.2 L500.3,341.6 L500.4,344.9 L500.4,348.2 L500.5,351.4 L500.5,354.6 L500.6,357.6 L500.6,360.6 L500.6,363.6 L500.7,366.5 L500.7,369.5 L500.8,372.4 L500.8,375.3 L500.9,378.3 L500.9,381.2 L501.0,384.2 L501.0,387.1 L501.1,390.1 L501.1,393.0 L501.2,395.9 L501.2,398.9 L501.3,401.8 L501.3,404.8 L501.4,407.7 L501.4,410.6 L501.5,413.5 L501.5,416.5 L501.6,419.4 L501.6,422.3 L501.7,425.2 L501.7,428.1 L501.8,431.0 L501.8,434.0 L501.9,437.0 L501.9,440.0 L502.0,443.1 L502.0,446.2 L502.1,449.4 L502.1,452.5 L502.2,455.7 L502.2,458.8 L502.3,462.0 L502.3,465.1 L502.4,468.2 L502.4,471.3 L502.5,474.3 L502.5,477.3 L502.5,480.2 L502.6,483.0 L502.7,485.8 L502.7,488.4 L502.8,491.0 L502.8,493.4 L502.9,495.8 L502.9,498.0 L503.0,500.1 L503.1,502.0 L503.1,503.8 L503.2,505.4 L503.3,506.9 L503.4,508.3 L503.4,509.6 L503.5,510.8 L503.6,512.0 L503.7,513.0 L503.8,514.0 L503.9,514.9 L504.0,515.8 L504.1,516.7 L504.1,517.5 L504.2,518.3 L504.3,519.1 L504.4,520.0 L504.5,520.8 L504.5,521.7 L504.6,522.6 L504.7,523.6 L504.8,524.7 L504.8,525.8 L504.9,527.1 L505.0,528.4 L505.0,529.7 L505.1,531.0 L505.1,532.3 L505.2,533.7 L505.2,535.0 L505.3,536.4 L505.3,537.8 L505.4,539.2 L505.4,540.6 L505.5,542.1 L505.5,543.5 L505.6,545.0 L505.6,546.5 L505.6,548.0 L505.7,549.5 L505.7,551.0 L505.8,552.5 L505.8,554.1 L505.8,555.6 L505.9,557.2 L505.9,558.8 L506.0,560.4 L506.0,562.0 L506.0,563.6 L506.1,565.2 L506.1,566.9 L506.1,568.5 L506.2,570.1 L506.2,571.7 L506.2,573.3 L506.3,574.9 L506.3,576.6 L506.3,578.2 L506.4,579.9 L506.4,581.6 L506.4,583.4 L506.5,585.1 L506.5,586.9 L506.5,588.7 L506.6,590.6 L506.6,592.5 L506.6,594.5 L506.7,596.5 L506.7,598.5 L506.8,600.6 L506.8,602.8 L506.9,605.0 L506.9,607.3 L507.0,609.7 L507.0,612.1 L507.1,614.7 L507.2,617.3 L507.2,619.9 L507.3,622.6 L507.4,625.3 L507.4,628.1 L507.5,630.9 L507.6,633.8 L507.7,636.6 L507.7,639.5 L507.8,642.4 L507.9,645.3 L508.0,648.1 L508.0,651.0 L508.1,653.8 L508.2,656.6 L508.2,659.4 L508.3,662.1 L508.4,664.8 L508.4,667.4 L508.5,670.0 L508.6,672.5 L508.6,675.0 L508.7,677.5 L508.7,680.0 L508.8,682.4 L508.8,684.8 L508.9,687.2 L508.9,689.6 L509.0,692.0 L509.0,694.3 L509.1,696.7 L509.1,699.0 L509.2,701.3 L509.2,703.7 L509.2,706.0 L509.3,708.3 L509.3,710.6 L509.4,712.9 L509.4,715.3 L509.5,717.6 L509.5,719.9 L509.6,722.3 L509.6,724.6 L509.7,727.0Z" fill="#666a63"/>
<path d="M510.3,727.0 L510.6,724.7 L510.8,722.3 L511.0,720.0 L511.2,717.6 L511.4,715.3 L511.6,713.0 L511.8,710.7 L512.1,708.3 L512.3,706.0 L512.5,703.7 L512.7,701.4 L512.9,699.0 L513.1,696.7 L513.3,694.4 L513.5,692.0 L513.8,689.6 L514.0,687.2 L514.2,684.9 L514.4,682.4 L514.6,680.0 L514.8,677.5 L515.1,675.1 L515.3,672.6 L515.5,670.0 L515.7,667.5 L515.9,664.8 L516.2,662.2 L516.4,659.4 L516.6,656.6 L516.9,653.8 L517.1,651.0 L517.3,648.2 L517.6,645.3 L517.8,642.4 L518.1,639.5 L518.3,636.7 L518.5,633.8 L518.8,631.0 L519.0,628.2 L519.2,625.4 L519.5,622.7 L519.7,620.0 L519.9,617.3 L520.1,614.7 L520.3,612.2 L520.5,609.7 L520.7,607.4 L520.9,605.1 L521.1,602.9 L521.3,600.7 L521.5,598.6 L521.7,596.5 L521.9,594.5 L522.0,592.6 L522.2,590.7 L522.4,588.8 L522.5,587.0 L522.7,585.2 L522.9,583.4 L523.0,581.7 L523.2,580.0 L523.3,578.3 L523.5,576.7 L523.6,575.0 L523.8,573.4 L524.0,571.8 L524.1,570.2 L524.3,568.6 L524.5,567.0 L524.6,565.4 L524.8,563.8 L525.0,562.1 L525.2,560.5 L525.4,558.9 L525.6,557.4 L525.7,555.8 L525.9,554.2 L526.1,552.7 L526.3,551.2 L526.5,549.6 L526.7,548.1 L526.9,546.7 L527.2,545.2 L527.4,543.7 L527.6,542.3 L527.8,540.8 L528.0,539.4 L528.2,538.0 L528.4,536.6 L528.6,535.2 L528.8,533.9 L528.9,532.5 L529.1,531.2 L529.3,529.8 L529.5,528.5 L529.7,527.2 L529.9,526.0 L530.0,524.7 L530.2,523.6 L530.3,522.4 L530.5,521.3 L530.6,520.2 L530.7,519.2 L530.9,518.1 L531.0,517.1 L531.1,516.1 L531.3,515.1 L531.4,514.1 L531.5,513.1 L531.7,512.1 L531.8,511.0 L531.9,510.0 L532.1,508.9 L532.3,507.8 L532.4,506.7 L532.6,505.5 L532.8,504.3 L533.0,503.0 L533.2,501.7 L533.4,500.3 L533.7,498.9 L533.9,497.4 L534.2,495.9 L534.4,494.3 L534.7,492.7 L535.0,491.0 L535.3,489.3 L535.6,487.6 L535.9,485.9 L536.2,484.1 L536.6,482.3 L536.9,480.5 L537.2,478.7 L537.6,477.0 L537.9,475.2 L538.2,473.4 L538.6,471.6 L538.9,469.9 L539.2,468.1 L539.5,466.4 L539.9,464.8 L540.2,463.1 L540.5,461.5 L540.8,460.0 L541.1,458.5 L541.4,457.0 L541.7,455.6 L542.0,454.2 L542.3,452.8 L542.6,451.5 L542.8,450.2 L543.1,448.8 L543.4,447.5 L543.7,446.3 L544.0,445.0 L544.3,443.7 L544.6,442.4 L544.9,441.1 L545.2,439.8 L545.5,438.5 L545.8,437.2 L546.1,435.8 L546.4,434.4 L546.7,433.0 L547.0,431.6 L547.4,430.1 L547.7,428.6 L548.0,427.1 L548.4,425.5 L548.8,423.9 L549.1,422.2 L549.5,420.5 L549.9,418.8 L550.3,417.1 L550.7,415.3 L551.1,413.5 L551.5,411.7 L551.9,409.9 L552.3,408.1 L552.7,406.3 L553.1,404.5 L553.5,402.6 L553.9,400.8 L554.3,398.9 L554.7,397.1 L555.1,395.3 L555.6,393.5 L556.0,391.7 L556.4,389.9 L556.8,388.1 L557.2,386.4 L557.6,384.6 L558.0,382.9 L558.4,381.2 L558.8,379.4 L559.2,377.6 L559.6,375.9 L560.0,374.1 L560.4,372.3 L560.8,370.5 L561.2,368.7 L561.6,367.0 L562.0,365.2 L562.5,363.5 L562.9,361.7 L563.3,360.0 L563.7,358.3 L564.0,356.7 L564.4,355.0 L564.8,353.5 L565.2,351.9 L565.6,350.4 L565.9,348.9 L566.3,347.5 L566.7,346.1 L567.0,344.7 L567.3,343.4 L567.7,342.2 L568.0,341.0 L568.3,339.8 L568.7,338.7 L569.0,337.6 L569.3,336.5 L569.6,335.5 L569.9,334.5 L570.2,333.5 L570.5,332.6 L570.8,331.6 L571.1,330.7 L571.4,329.8 L571.7,328.9 L572.0,328.1 L572.2,327.2 L572.5,326.4 L572.8,325.6 L573.1,324.7 L573.3,323.9 L573.6,323.1 L573.9,322.3 L574.1,321.5 L574.4,320.7 L574.6,319.9 L574.8,319.2 L575.1,318.5 L575.3,317.8 L575.5,317.2 L575.7,316.5 L575.9,315.9 L576.1,315.3 L576.3,314.7 L576.5,314.1 L576.7,313.5 L576.9,312.9 L577.1,312.3 L577.3,311.7 L577.5,311.2 L577.7,310.6 L577.9,310.0 L578.1,309.4 L578.3,308.9 L578.5,308.3 L578.7,307.7 L578.9,307.1 L579.1,306.4 L573.5,304.6 L573.3,305.2 L573.1,305.8 L572.9,306.4 L572.7,307.0 L572.5,307.6 L572.3,308.1 L572.1,308.7 L571.9,309.3 L571.7,309.9 L571.5,310.4 L571.3,311.0 L571.1,311.6 L570.9,312.2 L570.7,312.8 L570.5,313.4 L570.3,314.0 L570.1,314.7 L569.9,315.3 L569.7,316.0 L569.4,316.7 L569.2,317.4 L569.0,318.2 L568.7,318.9 L568.5,319.7 L568.2,320.5 L568.0,321.3 L567.7,322.1 L567.5,322.9 L567.2,323.7 L566.9,324.6 L566.7,325.4 L566.4,326.3 L566.1,327.1 L565.8,328.0 L565.5,328.9 L565.2,329.9 L564.9,330.8 L564.6,331.8 L564.3,332.8 L564.0,333.8 L563.7,334.9 L563.4,336.0 L563.1,337.1 L562.7,338.3 L562.4,339.5 L562.1,340.7 L561.7,342.0 L561.4,343.3 L561.0,344.6 L560.7,346.0 L560.3,347.5 L560.0,349.0 L559.6,350.5 L559.2,352.1 L558.8,353.7 L558.4,355.3 L558.0,357.0 L557.6,358.7 L557.2,360.4 L556.8,362.2 L556.4,363.9 L556.0,365.7 L555.6,367.4 L555.2,369.2 L554.8,371.0 L554.4,372.8 L554.0,374.6 L553.6,376.4 L553.2,378.1 L552.8,379.9 L552.4,381.6 L552.0,383.4 L551.6,385.1 L551.2,386.9 L550.8,388.6 L550.4,390.4 L550.0,392.2 L549.6,394.1 L549.2,395.9 L548.8,397.7 L548.4,399.6 L548.0,401.4 L547.6,403.3 L547.2,405.1 L546.8,406.9 L546.5,408.7 L546.1,410.6 L545.7,412.4 L545.3,414.1 L544.9,415.9 L544.5,417.6 L544.2,419.4 L543.8,421.0 L543.5,422.7 L543.1,424.3 L542.8,425.9 L542.4,427.5 L542.1,429.0 L541.8,430.4 L541.5,431.9 L541.2,433.3 L540.9,434.7 L540.6,436.0 L540.3,437.3 L540.0,438.7 L539.7,440.0 L539.4,441.3 L539.1,442.6 L538.9,443.8 L538.6,445.1 L538.3,446.4 L538.0,447.8 L537.8,449.1 L537.5,450.4 L537.2,451.8 L536.9,453.2 L536.6,454.6 L536.4,456.0 L536.1,457.5 L535.8,459.0 L535.5,460.6 L535.2,462.2 L534.9,463.8 L534.6,465.5 L534.3,467.2 L534.0,469.0 L533.7,470.7 L533.4,472.5 L533.1,474.3 L532.8,476.1 L532.4,477.9 L532.1,479.7 L531.8,481.5 L531.5,483.3 L531.3,485.1 L531.0,486.8 L530.7,488.6 L530.4,490.3 L530.2,491.9 L529.9,493.6 L529.6,495.2 L529.4,496.7 L529.2,498.2 L529.0,499.7 L528.8,501.0 L528.6,502.4 L528.4,503.7 L528.3,504.9 L528.1,506.1 L528.0,507.2 L527.8,508.3 L527.7,509.4 L527.6,510.5 L527.5,511.5 L527.4,512.6 L527.3,513.6 L527.2,514.6 L527.1,515.6 L527.0,516.7 L526.9,517.7 L526.8,518.7 L526.6,519.8 L526.5,520.9 L526.4,522.0 L526.3,523.1 L526.2,524.3 L526.1,525.5 L525.9,526.8 L525.8,528.1 L525.6,529.4 L525.5,530.7 L525.3,532.0 L525.1,533.4 L525.0,534.8 L524.8,536.1 L524.6,537.5 L524.5,539.0 L524.3,540.4 L524.1,541.8 L524.0,543.3 L523.8,544.8 L523.6,546.2 L523.4,547.7 L523.3,549.2 L523.1,550.8 L522.9,552.3 L522.8,553.9 L522.6,555.4 L522.5,557.0 L522.3,558.6 L522.2,560.2 L522.0,561.9 L521.9,563.5 L521.7,565.1 L521.6,566.7 L521.5,568.3 L521.4,569.9 L521.2,571.6 L521.1,573.2 L521.0,574.8 L520.9,576.5 L520.8,578.1 L520.7,579.8 L520.6,581.5 L520.5,583.3 L520.3,585.0 L520.2,586.8 L520.1,588.7 L520.0,590.5 L519.9,592.4 L519.8,594.4 L519.6,596.4 L519.5,598.4 L519.4,600.5 L519.2,602.7 L519.1,604.9 L518.9,607.2 L518.7,609.6 L518.6,612.1 L518.4,614.6 L518.2,617.2 L518.0,619.8 L517.9,622.5 L517.7,625.3 L517.5,628.1 L517.3,630.9 L517.1,633.7 L516.9,636.6 L516.7,639.4 L516.5,642.3 L516.3,645.2 L516.1,648.1 L515.9,650.9 L515.7,653.8 L515.5,656.6 L515.3,659.3 L515.1,662.1 L514.9,664.8 L514.7,667.4 L514.5,670.0 L514.3,672.5 L514.1,675.0 L513.9,677.5 L513.7,679.9 L513.5,682.4 L513.3,684.8 L513.1,687.2 L512.9,689.6 L512.7,691.9 L512.5,694.3 L512.3,696.6 L512.1,699.0 L511.9,701.3 L511.7,703.6 L511.5,705.9 L511.3,708.3 L511.1,710.6 L510.9,712.9 L510.7,715.2 L510.5,717.6 L510.3,719.9 L510.1,722.2 L509.9,724.6 L509.7,727.0Z" fill="#666a63"/>
<path d="M399.4,326.5 L402,306.6 L419.4,316.4" fill="none" stroke="#666a63" stroke-width="4.8" stroke-linecap="round" stroke-linejoin="miter" stroke-miterlimit="4"/>
<path d="M491.2,293.5 L502.7,276.8 L513.5,293.5" fill="none" stroke="#666a63" stroke-width="4.8" stroke-linecap="round" stroke-linejoin="miter" stroke-miterlimit="4"/>
<path d="M560.7,314.7 L577,303.2 L581.9,321.8" fill="none" stroke="#666a63" stroke-width="4.8" stroke-linecap="round" stroke-linejoin="miter" stroke-miterlimit="4"/>
<path d="M678.2,568.7 L677.7,569.5 L677.1,570.3 L676.6,571.1 L676.0,571.9 L675.4,572.7 L674.9,573.5 L674.2,574.3 L673.6,575.2 L672.9,576.0 L672.2,576.9 L671.6,577.7 L670.9,578.5 L670.2,579.4 L669.5,580.2 L668.8,581.0 L668.1,581.8 L667.3,582.6 L666.6,583.4 L665.9,584.3 L665.1,585.1 L664.3,585.9 L663.5,586.7 L662.8,587.5 L662.0,588.3 L661.2,589.1 L660.3,589.9 L659.5,590.7 L658.7,591.5 L657.9,592.3 L657.0,593.1 L656.2,593.9 L655.4,594.6 L654.5,595.4 L653.7,596.2 L652.7,597.0 L651.8,597.9 L650.8,598.7 L649.9,599.5 L648.9,600.3 L648.0,601.1 L647.0,601.9 L646.0,602.7 L645.1,603.5 L644.1,604.3 L643.1,605.1 L642.1,605.8 L641.2,606.6 L640.2,607.4 L639.2,608.1 L638.3,608.8 L637.3,609.5 L636.4,610.2 L635.4,610.9 L634.5,611.6 L633.5,612.3 L632.5,613.0 L631.6,613.6 L630.6,614.3 L629.6,615.0 L628.6,615.6 L627.7,616.3 L626.7,616.9 L625.6,617.7 L624.5,618.4 L623.4,619.1 L622.3,619.8 L621.2,620.4 L620.1,621.1 L618.9,621.8 L617.8,622.5 L616.7,623.1 L615.6,623.8 L614.4,624.4 L613.3,625.1 L612.2,625.7 L611.0,626.4 L610.0,626.9 L609.0,627.5 L608.0,628.0 L607.0,628.6 L605.9,629.1 L604.9,629.6 L603.9,630.2 L602.8,630.7 L601.8,631.2 L600.7,631.7 L599.7,632.2 L598.7,632.7 L597.6,633.2 L596.6,633.7 L594.4,634.7 L592.3,635.7 L590.2,636.6 L588.0,637.5 L585.9,638.4 L583.7,639.3 L581.5,640.2 L579.3,641.1 L577.1,641.9 L574.9,642.7 L572.7,643.5 L570.5,644.3 L568.3,645.1 L566.0,645.8 L561.8,647.2 L557.6,648.5 L553.3,649.7 L549.1,650.9 L544.8,652.0 L540.5,653.0 L536.2,653.9 L531.8,654.8 L527.5,655.6 L523.1,656.3 L518.8,657.0 L514.4,657.6 L510.0,658.0 L505.6,658.4 L500.9,658.8 L496.2,659.0 L491.5,659.1 L486.9,659.1 L482.2,659.0 L477.5,658.8 L472.8,658.5 L468.2,658.1 L463.5,657.6 L458.9,656.9 L454.2,656.1 L449.6,655.2 L445.0,654.1 L440.4,653.0 L438.6,652.5 L436.7,651.9 L434.8,651.4 L433.0,650.8 L431.1,650.2 L429.3,649.5 L427.4,648.9 L425.6,648.2 L423.7,647.5 L421.9,646.8 L420.0,646.0 L418.2,645.2 L416.3,644.4 L414.5,643.6 L413.1,642.9 L411.7,642.3 L410.4,641.6 L409.1,640.9 L407.8,640.3 L406.6,639.6 L405.4,638.9 L404.3,638.1 L403.2,637.4 L402.3,636.7 L401.4,636.0 L400.5,635.3 L399.8,634.5 L399.1,633.8 L398.7,633.4 L398.4,632.9 L398.1,632.5 L397.8,632.0 L397.6,631.6 L397.3,631.1 L397.2,630.7 L397.0,630.2 L396.9,629.8 L396.8,629.3 L396.7,628.8 L396.7,628.3 L396.7,627.7 L396.7,627.0 L396.8,626.8 L396.8,626.5 L396.9,626.1 L397.0,625.8 L397.0,625.4 L397.2,625.0 L386.4,621.6 L386.2,622.1 L386.0,622.8 L385.8,623.4 L385.6,624.0 L385.5,624.7 L385.3,625.4 L385.1,626.6 L385.0,627.8 L385.0,629.1 L385.0,630.4 L385.1,631.6 L385.3,632.8 L385.6,634.0 L385.9,635.2 L386.4,636.3 L386.8,637.4 L387.3,638.5 L387.9,639.5 L388.5,640.5 L389.2,641.5 L390.2,642.9 L391.4,644.2 L392.6,645.4 L393.9,646.6 L395.2,647.8 L396.5,648.9 L397.9,649.9 L399.3,650.9 L400.8,651.9 L402.3,652.8 L403.8,653.7 L405.2,654.6 L406.7,655.4 L408.2,656.2 L410.2,657.2 L412.1,658.2 L414.1,659.2 L416.0,660.1 L418.0,661.0 L420.0,661.9 L422.0,662.7 L424.0,663.6 L426.0,664.4 L428.0,665.1 L430.0,665.9 L432.0,666.6 L434.0,667.2 L436.1,667.9 L441.0,669.4 L446.0,670.7 L451.1,671.9 L456.1,672.9 L461.2,673.8 L466.2,674.5 L471.3,675.0 L476.4,675.5 L481.5,675.8 L486.6,676.0 L491.7,676.0 L496.8,675.9 L501.9,675.7 L506.9,675.4 L511.7,675.0 L516.4,674.5 L521.1,673.9 L525.8,673.2 L530.4,672.5 L535.1,671.6 L539.7,670.7 L544.3,669.7 L548.9,668.6 L553.4,667.4 L558.0,666.2 L562.5,664.9 L566.9,663.5 L571.4,662.1 L573.8,661.3 L576.1,660.5 L578.5,659.7 L580.8,658.9 L583.2,658.0 L585.5,657.1 L587.8,656.2 L590.1,655.3 L592.4,654.4 L594.7,653.4 L597.0,652.5 L599.3,651.5 L601.6,650.5 L603.8,649.4 L605.0,648.9 L606.1,648.4 L607.2,647.9 L608.3,647.3 L609.5,646.8 L610.6,646.2 L611.7,645.7 L612.8,645.1 L613.9,644.6 L615.0,644.0 L616.1,643.4 L617.2,642.9 L618.3,642.3 L619.4,641.7 L620.6,641.0 L621.8,640.4 L623.1,639.7 L624.3,639.0 L625.5,638.3 L626.7,637.6 L627.9,636.9 L629.1,636.2 L630.3,635.5 L631.5,634.7 L632.7,634.0 L633.9,633.3 L635.1,632.5 L636.3,631.8 L637.3,631.1 L638.4,630.4 L639.5,629.7 L640.5,629.0 L641.6,628.3 L642.6,627.6 L643.7,626.9 L644.7,626.1 L645.8,625.4 L646.8,624.7 L647.9,623.9 L648.9,623.2 L649.9,622.4 L650.9,621.7 L652.0,620.9 L653.1,620.0 L654.2,619.2 L655.2,618.4 L656.3,617.6 L657.3,616.7 L658.4,615.9 L659.5,615.0 L660.5,614.2 L661.5,613.3 L662.6,612.4 L663.6,611.6 L664.7,610.7 L665.7,609.8 L666.6,609.0 L667.5,608.1 L668.5,607.3 L669.4,606.5 L670.3,605.6 L671.2,604.8 L672.2,603.9 L673.1,603.1 L674.0,602.2 L674.9,601.3 L675.8,600.4 L676.7,599.6 L677.5,598.7 L678.4,597.8 L679.3,596.9 L680.1,596.0 L681.0,595.1 L681.8,594.2 L682.6,593.3 L683.4,592.3 L684.2,591.4 L685.1,590.5 L685.9,589.5 L686.6,588.6 L687.4,587.6 L688.2,586.7 L689.0,585.7 L689.7,584.7 L690.4,583.8 L691.1,582.9 L691.8,582.0 L692.4,581.1 L693.1,580.1 L693.7,579.2Z" fill="url(#sp)"/>
<path d="M611.7,379.2 L613.1,379.5 L614.2,379.9 L615.4,380.3 L616.7,380.7 L617.9,381.2 L619.2,381.8 L620.6,382.4 L622.0,383.1 L623.4,383.8 L624.8,384.6 L626.3,385.4 L627.7,386.2 L629.2,387.2 L630.6,388.1 L632.2,389.2 L633.8,390.3 L635.3,391.5 L636.9,392.7 L638.4,394.0 L639.9,395.3 L641.4,396.6 L642.8,397.9 L644.2,399.3 L645.6,400.7 L647.0,402.1 L648.2,403.6 L649.5,405.0 L650.7,406.5 L651.7,407.9 L652.7,409.2 L653.7,410.6 L654.5,411.9 L655.4,413.3 L656.2,414.6 L656.9,415.9 L657.6,417.2 L658.2,418.5 L658.8,419.8 L659.3,421.0 L659.7,422.2 L660.1,423.4 L660.4,424.6 L660.7,425.6 L660.9,426.7 L661.1,427.7 L661.2,428.8 L661.4,429.8 L661.4,430.9 L661.5,432.0 L661.5,433.1 L661.5,434.2 L661.5,435.3 L661.4,436.5 L661.3,437.6 L661.1,438.8 L660.9,439.9 L660.7,441.2 L660.4,442.4 L660.1,443.7 L659.8,444.9 L659.4,446.2 L659.0,447.5 L658.6,448.8 L658.1,450.1 L657.6,451.4 L657.0,452.7 L656.4,454.0 L655.8,455.3 L655.2,456.6 L654.5,458.0 L653.9,459.0 L653.3,460.2 L652.6,461.3 L652.0,462.4 L651.3,463.4 L650.6,464.5 L649.9,465.6 L649.1,466.7 L648.4,467.8 L647.6,468.8 L646.8,469.9 L646.0,470.9 L645.2,471.9 L644.4,472.9 L643.2,474.3 L642.0,475.6 L640.8,477.0 L639.5,478.3 L638.3,479.5 L637.0,480.8 L635.7,482.0 L634.4,483.3 L633.0,484.4 L631.6,485.6 L630.2,486.8 L628.8,487.9 L627.4,489.0 L625.9,490.1 L624.2,491.3 L622.6,492.5 L620.8,493.6 L619.1,494.8 L617.3,495.9 L615.5,496.9 L613.7,498.0 L611.9,499.0 L610.0,500.0 L608.1,501.0 L606.1,502.0 L604.2,502.9 L602.2,503.9 L600.2,504.8 L598.5,505.5 L596.7,506.3 L595.0,507.0 L593.2,507.7 L591.4,508.4 L589.6,509.0 L587.8,509.7 L586.0,510.3 L584.2,511.0 L582.3,511.6 L580.5,512.2 L578.6,512.8 L576.7,513.3 L574.8,513.9 L572.9,514.5 L570.9,515.0 L569.0,515.5 L567.1,516.0 L565.1,516.5 L563.1,517.0 L561.2,517.5 L559.2,517.9 L557.2,518.4 L555.2,518.8 L553.2,519.2 L551.2,519.6 L549.2,520.0 L547.1,520.4 L545.2,520.8 L543.2,521.1 L541.3,521.5 L539.3,521.8 L537.3,522.1 L535.4,522.4 L533.4,522.7 L531.4,523.0 L529.4,523.3 L527.5,523.6 L525.5,523.9 L523.5,524.1 L521.5,524.4 L519.5,524.6 L518.5,524.7 L517.4,524.9 L516.3,525.0 L515.2,525.1 L514.2,525.2 L513.1,525.4 L512.0,525.5 L511.0,525.6 L509.9,525.7 L508.9,525.8 L507.8,525.9 L506.7,526.0 L505.7,526.1 L504.6,526.2 L501.5,526.5 L498.5,526.8 L495.4,527.0 L492.3,527.2 L489.3,527.4 L486.2,527.6 L483.2,527.8 L480.1,527.9 L477.1,528.1 L474.1,528.2 L471.1,528.3 L468.0,528.4 L465.0,528.4 L462.0,528.5 L458.5,528.5 L454.9,528.5 L451.4,528.5 L447.9,528.4 L444.3,528.3 L440.8,528.2 L437.3,528.1 L433.8,528.0 L430.3,527.8 L426.8,527.6 L423.2,527.4 L419.7,527.1 L416.2,526.8 L412.7,526.5 L410.9,526.4 L409.2,526.2 L407.4,526.0 L405.7,525.9 L403.9,525.7 L402.2,525.5 L400.4,525.3 L398.6,525.1 L396.9,524.9 L395.1,524.7 L393.3,524.4 L391.5,524.2 L389.8,523.9 L388.0,523.7 L385.9,523.4 L383.8,523.1 L381.6,522.7 L379.5,522.4 L377.3,522.0 L375.2,521.6 L373.0,521.2 L370.8,520.8 L368.6,520.4 L366.4,519.9 L364.1,519.5 L361.9,519.0 L359.6,518.5 L357.3,517.9 L354.9,517.4 L352.4,516.8 L350.0,516.2 L347.7,515.6 L345.4,514.9 L343.2,514.3 L341.1,513.6 L339.1,512.9 L337.1,512.2 L335.4,511.4 L333.7,510.7 L332.3,510.0 L331.0,509.3 L329.8,508.5 L329.3,508.1 L328.7,507.7 L328.3,507.4 L327.9,507.0 L327.6,506.8 L327.4,506.6 L327.2,506.4 L327.1,506.3 L327.1,506.3 L327.0,506.2 L326.9,506.2 L326.9,506.1 L326.8,506.0 L326.8,505.6 L326.8,505.4 L326.8,505.0 L326.8,504.4 L327.0,503.8 L327.1,503.1 L327.4,502.0 L300.0,492.9 L299.4,494.5 L298.9,496.3 L298.4,498.2 L297.9,500.2 L297.6,502.2 L297.4,504.4 L297.3,506.9 L297.5,509.5 L297.8,512.1 L298.4,514.6 L299.2,517.1 L300.2,519.4 L301.3,521.6 L302.5,523.6 L303.9,525.6 L305.4,527.4 L306.9,529.0 L308.6,530.6 L310.2,532.0 L312.0,533.5 L314.5,535.2 L317.0,536.8 L319.7,538.3 L322.3,539.6 L325.1,540.9 L327.8,542.0 L330.5,543.1 L333.3,544.1 L336.1,545.0 L338.9,545.9 L341.6,546.7 L344.4,547.5 L347.1,548.2 L349.7,548.9 L352.2,549.5 L354.7,550.2 L357.1,550.7 L359.5,551.3 L361.9,551.8 L364.3,552.4 L366.7,552.9 L369.1,553.4 L371.4,553.8 L373.8,554.3 L376.1,554.7 L378.4,555.1 L380.7,555.5 L383.0,555.9 L384.9,556.2 L386.8,556.5 L388.8,556.8 L390.7,557.1 L392.6,557.4 L394.5,557.6 L396.4,557.9 L398.3,558.1 L400.2,558.4 L402.1,558.6 L403.9,558.8 L405.8,559.0 L407.7,559.2 L409.6,559.4 L413.3,559.8 L417.1,560.1 L420.8,560.4 L424.5,560.7 L428.3,561.0 L432.0,561.2 L435.8,561.4 L439.5,561.6 L443.3,561.8 L447.0,561.9 L450.8,562.0 L454.5,562.1 L458.3,562.2 L462.0,562.2 L465.3,562.2 L468.5,562.2 L471.7,562.2 L474.9,562.2 L478.1,562.1 L481.3,562.1 L484.5,562.0 L487.8,561.9 L491.0,561.8 L494.3,561.6 L497.5,561.5 L500.8,561.3 L504.0,561.1 L507.3,560.9 L508.4,560.9 L509.5,560.8 L510.7,560.7 L511.8,560.7 L512.9,560.6 L514.0,560.5 L515.2,560.4 L516.3,560.3 L517.4,560.3 L518.6,560.2 L519.7,560.1 L520.8,560.0 L522.0,559.9 L523.1,559.8 L525.2,559.6 L527.3,559.5 L529.4,559.3 L531.5,559.1 L533.7,558.9 L535.8,558.7 L537.9,558.4 L540.1,558.2 L542.2,558.0 L544.3,557.7 L546.5,557.5 L548.6,557.2 L550.8,556.9 L552.9,556.7 L555.2,556.4 L557.4,556.0 L559.7,555.7 L561.9,555.4 L564.1,555.0 L566.4,554.6 L568.6,554.2 L570.9,553.8 L573.1,553.4 L575.4,553.0 L577.6,552.6 L579.8,552.1 L582.1,551.6 L584.3,551.1 L586.5,550.6 L588.8,550.1 L591.0,549.5 L593.2,548.9 L595.4,548.4 L597.7,547.7 L599.9,547.1 L602.1,546.5 L604.3,545.8 L606.5,545.1 L608.7,544.4 L610.8,543.6 L613.0,542.9 L615.2,542.1 L617.8,541.1 L620.3,540.1 L622.8,539.1 L625.4,538.0 L627.9,536.9 L630.4,535.7 L632.9,534.5 L635.3,533.3 L637.8,532.0 L640.2,530.7 L642.6,529.3 L645.0,527.9 L647.4,526.4 L649.7,524.9 L651.9,523.5 L653.9,522.1 L656.0,520.6 L658.1,519.1 L660.1,517.5 L662.1,515.9 L664.1,514.3 L666.0,512.6 L668.0,510.9 L669.9,509.1 L671.7,507.3 L673.6,505.4 L675.4,503.5 L677.2,501.6 L678.5,500.1 L679.7,498.7 L681.0,497.2 L682.2,495.7 L683.4,494.1 L684.6,492.6 L685.8,491.0 L686.9,489.4 L688.0,487.8 L689.1,486.1 L690.2,484.5 L691.2,482.8 L692.3,481.1 L693.3,479.3 L694.4,477.3 L695.5,475.2 L696.6,473.1 L697.6,470.9 L698.5,468.8 L699.5,466.6 L700.3,464.3 L701.2,462.1 L702.0,459.8 L702.7,457.5 L703.3,455.2 L704.0,452.8 L704.5,450.4 L705.0,448.0 L705.4,445.6 L705.8,443.2 L706.0,440.8 L706.3,438.4 L706.4,436.0 L706.5,433.5 L706.5,431.0 L706.4,428.5 L706.2,426.0 L706.0,423.5 L705.7,421.0 L705.3,418.5 L704.8,416.0 L704.2,413.4 L703.5,410.7 L702.6,407.9 L701.7,405.2 L700.7,402.6 L699.6,400.0 L698.4,397.4 L697.1,394.9 L695.8,392.5 L694.4,390.1 L693.0,387.7 L691.5,385.3 L690.0,383.1 L688.4,380.8 L686.7,378.6 L684.9,376.2 L683.0,373.9 L681.0,371.7 L679.0,369.5 L677.0,367.3 L674.9,365.2 L672.8,363.1 L670.6,361.1 L668.5,359.1 L666.2,357.2 L664.0,355.4 L661.7,353.6 L659.4,351.8 L657.1,350.2 L655.0,348.6 L652.8,347.2 L650.6,345.7 L648.3,344.4 L646.1,343.1 L643.9,341.8 L641.6,340.6 L639.3,339.4 L637.0,338.3 L634.7,337.3 L632.4,336.3 L630.1,335.4 L627.7,334.5 L625.7,333.8 L621.1,332.9 L616.5,332.9 L611.9,333.8 L607.6,335.5 L603.7,338.1 L600.4,341.4 L597.8,345.2 L596.0,349.5 L595.1,354.1 L595.1,358.7 L596.0,363.3 L597.7,367.6 L600.3,371.5 L603.6,374.8 L607.4,377.4Z" fill="url(#sp)"/>
<path d="M479.6,521.3 L478.6,521.2 L477.5,521.1 L476.5,520.9 L475.4,520.8 L474.4,520.7 L473.3,520.6 L472.2,520.5 L471.2,520.4 L470.1,520.2 L469.1,520.1 L468.0,520.0 L466.9,519.9 L465.9,519.8 L464.8,519.6 L463.8,519.5 L462.8,519.4 L461.8,519.3 L460.7,519.2 L459.8,519.1 L458.8,518.9 L457.8,518.8 L456.9,518.7 L456.0,518.6 L455.1,518.5 L454.2,518.4 L453.3,518.3 L452.5,518.2 L451.6,518.1 L450.8,518.0 L450.0,517.9 L449.3,517.8 L448.5,517.7 L447.7,517.6 L447.0,517.5 L446.3,517.4 L445.5,517.3 L444.8,517.2 L444.1,517.1 L443.4,517.0 L442.6,516.9 L441.9,516.8 L441.2,516.7 L440.5,516.6 L439.7,516.5 L439.0,516.4 L438.3,516.3 L437.5,516.2 L436.7,516.1 L435.9,515.9 L435.1,515.8 L434.4,515.7 L433.6,515.7 L432.9,515.6 L432.2,515.5 L431.5,515.4 L430.8,515.3 L430.1,515.3 L429.4,515.2 L428.7,515.1 L428.0,515.0 L427.3,514.9 L426.6,514.8 L425.9,514.7 L425.2,514.6 L424.4,514.5 L423.7,514.3 L422.9,514.2 L422.1,514.0 L421.2,513.8 L420.3,513.6 L419.4,513.3 L418.5,513.1 L417.5,512.8 L416.4,512.5 L415.3,512.2 L414.2,511.8 L413.0,511.5 L411.8,511.1 L410.5,510.7 L409.2,510.3 L407.9,509.9 L406.6,509.5 L405.3,509.0 L403.9,508.6 L402.6,508.1 L401.2,507.7 L399.9,507.2 L398.5,506.7 L397.2,506.3 L395.8,505.8 L394.5,505.3 L393.2,504.8 L391.9,504.4 L390.7,503.9 L389.5,503.4 L388.3,503.0 L387.1,502.5 L385.9,502.1 L384.7,501.6 L383.6,501.1 L382.5,500.7 L381.4,500.2 L380.3,499.8 L379.2,499.3 L378.1,498.9 L377.1,498.4 L376.0,497.9 L375.0,497.5 L374.0,497.0 L372.9,496.5 L371.9,496.1 L370.9,495.6 L370.0,495.1 L369.0,494.6 L368.0,494.1 L367.0,493.6 L366.0,493.1 L365.1,492.6 L364.1,492.1 L363.1,491.6 L362.1,491.0 L361.1,490.5 L360.1,489.9 L359.1,489.3 L358.1,488.8 L357.1,488.2 L356.1,487.6 L355.0,487.0 L354.0,486.4 L353.0,485.8 L352.0,485.2 L351.0,484.6 L350.0,483.9 L349.0,483.3 L347.9,482.7 L346.9,482.0 L345.9,481.4 L344.9,480.8 L343.8,480.1 L342.8,479.5 L341.8,478.8 L340.8,478.2 L339.7,477.5 L338.7,476.8 L337.7,476.2 L336.7,475.6 L335.7,474.9 L334.7,474.3 L333.7,473.6 L332.7,473.0 L331.6,472.3 L330.6,471.6 L329.6,470.9 L328.6,470.3 L327.5,469.6 L326.5,468.9 L325.5,468.2 L324.5,467.5 L323.4,466.8 L322.4,466.1 L321.3,465.4 L320.3,464.7 L319.3,464.0 L318.2,463.3 L317.2,462.6 L316.1,461.8 L315.1,461.1 L314.1,460.4 L313.0,459.7 L312.0,458.9 L311.0,458.2 L310.0,457.5 L309.0,456.7 L308.0,456.0 L306.9,455.2 L305.9,454.5 L304.9,453.7 L303.8,452.9 L302.8,452.2 L301.7,451.4 L300.7,450.6 L299.7,449.8 L298.6,449.0 L297.6,448.2 L296.5,447.4 L295.5,446.6 L294.4,445.8 L293.3,445.0 L292.3,444.2 L291.2,443.4 L290.2,442.6 L289.2,441.8 L288.2,441.1 L287.2,440.3 L286.3,439.6 L285.3,438.8 L284.3,438.0 L283.4,437.2 L282.4,436.4 L281.4,435.6 L280.4,434.8 L279.4,434.0 L278.4,433.1 L277.4,432.3 L276.4,431.5 L275.3,430.7 L274.3,429.8 L273.2,429.0 L272.2,428.2 L271.1,427.3 L270.0,426.5 L268.9,425.7 L267.8,424.9 L266.7,424.1 L265.6,423.3 L264.4,422.5 L263.3,421.7 L262.1,421.0 L261.0,420.3 L259.9,419.6 L258.8,419.0 L257.7,418.3 L256.6,417.7 L255.5,417.1 L254.5,416.5 L253.4,415.9 L252.4,415.3 L251.3,414.8 L250.3,414.2 L249.3,413.7 L248.3,413.2 L247.3,412.7 L246.4,412.2 L245.4,411.6 L244.5,411.1 L243.5,410.6 L242.6,410.1 L241.7,409.6 L240.7,409.1 L239.8,408.6 L235.9,406.9 L231.7,405.9 L227.5,405.8 L223.3,406.5 L219.3,408.0 L215.7,410.3 L212.6,413.2 L210.1,416.7 L208.4,420.6 L207.4,424.8 L207.3,429.0 L208.0,433.2 L209.5,437.2 L211.8,440.8 L214.7,443.9 L218.2,446.4 L219.2,447.0 L220.3,447.6 L221.3,448.2 L222.3,448.8 L223.3,449.3 L224.3,449.9 L225.3,450.5 L226.2,451.0 L227.2,451.6 L228.1,452.1 L229.0,452.7 L230.0,453.2 L230.9,453.7 L231.8,454.3 L232.7,454.8 L233.6,455.3 L234.5,455.8 L235.3,456.3 L236.2,456.9 L237.1,457.4 L238.0,457.9 L238.8,458.4 L239.7,459.0 L240.6,459.5 L241.5,460.0 L242.4,460.6 L243.3,461.1 L244.2,461.7 L245.1,462.3 L246.1,462.9 L247.1,463.5 L248.1,464.2 L249.1,464.8 L250.1,465.5 L251.2,466.2 L252.2,466.8 L253.3,467.5 L254.4,468.2 L255.5,468.9 L256.6,469.7 L257.7,470.4 L258.8,471.1 L260.0,471.8 L261.1,472.6 L262.3,473.3 L263.5,474.1 L264.7,474.8 L265.8,475.6 L267.0,476.3 L268.1,477.0 L269.2,477.6 L270.3,478.3 L271.4,479.1 L272.6,479.8 L273.7,480.5 L274.9,481.2 L276.0,481.9 L277.2,482.6 L278.3,483.4 L279.5,484.1 L280.7,484.8 L281.9,485.5 L283.1,486.3 L284.2,487.0 L285.4,487.7 L286.6,488.4 L287.9,489.1 L289.1,489.9 L290.3,490.6 L291.5,491.3 L292.7,491.9 L293.9,492.6 L295.1,493.3 L296.3,493.9 L297.5,494.6 L298.7,495.2 L299.9,495.9 L301.1,496.5 L302.3,497.2 L303.5,497.8 L304.7,498.4 L305.9,499.0 L307.1,499.7 L308.4,500.3 L309.6,500.9 L310.8,501.5 L312.0,502.1 L313.3,502.7 L314.5,503.3 L315.8,503.9 L317.0,504.4 L318.2,505.0 L319.5,505.6 L320.8,506.1 L322.0,506.6 L323.3,507.2 L324.5,507.7 L325.8,508.1 L327.0,508.6 L328.3,509.1 L329.5,509.6 L330.8,510.0 L332.1,510.5 L333.3,510.9 L334.6,511.3 L335.9,511.8 L337.2,512.2 L338.4,512.6 L339.7,513.0 L341.0,513.4 L342.3,513.8 L343.6,514.2 L344.9,514.5 L346.2,514.9 L347.4,515.2 L348.7,515.6 L350.0,515.9 L351.3,516.2 L352.6,516.5 L353.9,516.8 L355.2,517.1 L356.5,517.4 L357.8,517.7 L359.1,517.9 L360.3,518.1 L361.6,518.4 L362.8,518.6 L364.1,518.7 L365.3,518.9 L366.6,519.1 L367.8,519.2 L369.0,519.4 L370.2,519.5 L371.5,519.7 L372.7,519.8 L373.9,519.9 L375.1,520.1 L376.3,520.2 L377.5,520.3 L378.8,520.4 L380.0,520.6 L381.2,520.7 L382.5,520.9 L383.7,521.0 L385.0,521.2 L386.4,521.4 L387.7,521.5 L389.1,521.7 L390.5,521.9 L391.9,522.1 L393.4,522.3 L394.8,522.5 L396.3,522.7 L397.7,522.8 L399.2,523.0 L400.6,523.2 L402.1,523.4 L403.5,523.6 L404.9,523.8 L406.3,523.9 L407.7,524.1 L409.1,524.2 L410.4,524.4 L411.7,524.5 L413.0,524.6 L414.2,524.7 L415.4,524.8 L416.5,524.9 L417.6,525.0 L418.7,525.1 L419.7,525.1 L420.7,525.1 L421.7,525.2 L422.6,525.2 L423.5,525.2 L424.4,525.2 L425.2,525.2 L426.0,525.1 L426.8,525.1 L427.6,525.1 L428.4,525.0 L429.1,525.0 L429.8,524.9 L430.6,524.9 L431.3,524.8 L432.0,524.8 L432.7,524.8 L433.4,524.7 L434.1,524.7 L434.8,524.6 L435.5,524.6 L436.3,524.5 L437.1,524.5 L437.8,524.5 L438.6,524.5 L439.3,524.4 L440.1,524.4 L440.8,524.4 L441.6,524.3 L442.3,524.3 L443.1,524.2 L443.8,524.2 L444.5,524.2 L445.3,524.1 L446.0,524.1 L446.8,524.0 L447.5,524.0 L448.3,524.0 L449.1,523.9 L449.9,523.9 L450.7,523.8 L451.5,523.7 L452.3,523.7 L453.2,523.6 L454.1,523.6 L454.9,523.5 L455.9,523.4 L456.8,523.4 L457.7,523.3 L458.7,523.2 L459.7,523.1 L460.7,523.0 L461.7,522.9 L462.7,522.9 L463.8,522.8 L464.8,522.7 L465.9,522.6 L466.9,522.5 L468.0,522.4 L469.0,522.3 L470.1,522.2 L471.2,522.1 L472.2,522.0 L473.3,521.9 L474.4,521.8 L475.4,521.7 L476.5,521.6 L477.5,521.5 L478.6,521.4 L479.6,521.3Z" fill="#f4c80c"/>
<path d="M465.4,654.5 L464.7,654.4 L463.9,654.3 L463.2,654.2 L462.5,654.1 L461.8,654.0 L461.1,653.9 L460.4,653.8 L459.7,653.7 L459.0,653.6 L458.2,653.5 L457.5,653.5 L456.8,653.4 L456.1,653.3 L455.4,653.2 L454.7,653.1 L453.9,652.9 L453.2,652.8 L452.4,652.7 L451.6,652.5 L450.9,652.4 L450.0,652.2 L449.2,652.1 L448.4,651.9 L447.5,651.7 L446.6,651.4 L445.7,651.2 L444.7,651.0 L443.8,650.7 L442.8,650.5 L441.8,650.2 L440.8,650.0 L439.8,649.7 L438.8,649.4 L437.7,649.1 L436.7,648.8 L435.6,648.5 L434.6,648.2 L433.5,647.9 L432.5,647.5 L431.4,647.2 L430.3,646.9 L429.3,646.5 L428.2,646.2 L427.2,645.8 L426.1,645.5 L425.1,645.1 L424.1,644.7 L423.1,644.3 L422.1,643.9 L421.0,643.6 L420.0,643.2 L419.0,642.8 L418.0,642.4 L416.9,641.9 L415.9,641.5 L414.9,641.1 L413.9,640.7 L412.9,640.2 L411.9,639.8 L410.9,639.4 L409.8,638.9 L408.8,638.4 L407.8,638.0 L406.8,637.5 L405.8,637.0 L404.8,636.5 L403.8,636.0 L402.8,635.5 L401.8,635.0 L400.8,634.5 L399.8,633.9 L398.9,633.4 L397.9,632.8 L396.9,632.2 L395.9,631.7 L394.9,631.1 L393.9,630.5 L392.8,629.9 L391.8,629.3 L390.8,628.7 L389.8,628.0 L388.8,627.4 L387.8,626.7 L386.8,626.1 L385.8,625.4 L384.8,624.7 L383.8,624.1 L382.8,623.4 L381.8,622.7 L380.8,622.0 L379.8,621.3 L378.8,620.5 L377.8,619.8 L376.8,619.1 L375.8,618.3 L374.8,617.6 L373.8,616.8 L372.8,616.1 L371.8,615.3 L370.8,614.4 L369.7,613.6 L368.7,612.7 L367.6,611.8 L366.5,610.9 L365.4,610.0 L364.4,609.0 L363.3,608.1 L362.2,607.2 L361.2,606.2 L360.1,605.3 L359.1,604.4 L358.1,603.5 L357.1,602.6 L356.1,601.7 L355.1,600.9 L354.2,600.0 L353.3,599.2 L352.4,598.4 L351.6,597.7 L350.8,597.0 L350.1,596.3 L349.5,595.7 L348.9,595.1 L348.3,594.6 L347.8,594.0 L347.3,593.5 L346.8,593.0 L346.3,592.5 L345.9,592.1 L345.5,591.6 L345.1,591.2 L344.6,590.7 L344.2,590.3 L343.8,589.8 L343.4,589.3 L342.9,588.9 L342.5,588.4 L342.0,587.9 L341.5,587.4 L341.0,586.9 L340.5,586.4 L339.9,585.9 L339.3,585.3 L338.7,584.8 L338.1,584.3 L337.6,583.8 L337.0,583.3 L336.5,582.8 L335.9,582.4 L335.4,581.9 L334.8,581.4 L334.3,581.0 L333.8,580.5 L333.2,580.1 L332.7,579.7 L332.2,579.2 L331.6,578.8 L331.1,578.4 L330.6,578.0 L330.1,577.6 L329.6,577.1 L329.0,576.7 L328.5,576.3 L328.0,575.9 L327.5,575.5 L327.0,575.1 L326.5,574.7 L326.0,574.3 L323.1,572.6 L320.0,571.5 L316.7,571.0 L313.4,571.2 L310.1,572.0 L307.1,573.5 L304.5,575.5 L302.3,578.0 L300.6,580.9 L299.5,584.0 L299.0,587.3 L299.2,590.6 L300.0,593.9 L301.5,596.9 L303.5,599.5 L306.0,601.7 L306.6,602.1 L307.1,602.5 L307.7,602.9 L308.3,603.2 L308.9,603.6 L309.4,604.0 L310.0,604.3 L310.6,604.7 L311.1,605.0 L311.7,605.4 L312.2,605.7 L312.8,606.1 L313.3,606.4 L313.9,606.8 L314.4,607.1 L314.9,607.5 L315.5,607.8 L316.0,608.2 L316.6,608.5 L317.1,608.9 L317.7,609.2 L318.2,609.5 L318.7,609.9 L319.3,610.2 L319.8,610.5 L320.2,610.8 L320.7,611.1 L321.2,611.4 L321.6,611.7 L322.1,612.0 L322.6,612.3 L323.1,612.6 L323.6,612.9 L324.1,613.3 L324.7,613.6 L325.2,614.0 L325.8,614.4 L326.5,614.8 L327.1,615.2 L327.8,615.6 L328.5,616.1 L329.2,616.6 L330.0,617.0 L330.8,617.5 L331.7,618.0 L332.5,618.6 L333.5,619.1 L334.4,619.6 L335.3,620.2 L336.3,620.7 L337.4,621.3 L338.4,621.9 L339.5,622.6 L340.7,623.2 L341.9,623.9 L343.1,624.6 L344.3,625.3 L345.6,626.0 L346.9,626.7 L348.1,627.4 L349.5,628.1 L350.8,628.8 L352.1,629.5 L353.5,630.3 L354.8,631.0 L356.1,631.7 L357.5,632.4 L358.8,633.1 L360.1,633.7 L361.4,634.4 L362.7,635.0 L364.0,635.6 L365.2,636.2 L366.5,636.7 L367.7,637.3 L368.9,637.9 L370.1,638.4 L371.4,638.9 L372.6,639.5 L373.8,640.0 L375.0,640.5 L376.2,641.0 L377.5,641.5 L378.7,642.0 L379.9,642.4 L381.1,642.9 L382.3,643.4 L383.5,643.8 L384.7,644.2 L385.9,644.7 L387.2,645.1 L388.4,645.5 L389.6,645.9 L390.8,646.3 L392.0,646.7 L393.1,647.0 L394.3,647.4 L395.5,647.7 L396.7,648.1 L397.9,648.4 L399.1,648.7 L400.3,649.0 L401.5,649.3 L402.6,649.6 L403.8,649.8 L405.0,650.1 L406.1,650.3 L407.3,650.6 L408.5,650.8 L409.6,651.0 L410.8,651.2 L411.9,651.4 L413.0,651.6 L414.2,651.8 L415.3,652.0 L416.4,652.2 L417.6,652.4 L418.7,652.5 L419.8,652.7 L420.9,652.9 L422.1,653.0 L423.2,653.2 L424.4,653.3 L425.5,653.4 L426.7,653.6 L427.8,653.7 L429.0,653.8 L430.1,653.9 L431.2,654.0 L432.4,654.0 L433.5,654.1 L434.6,654.2 L435.8,654.3 L436.9,654.3 L438.0,654.4 L439.1,654.4 L440.1,654.5 L441.2,654.5 L442.2,654.6 L443.2,654.6 L444.2,654.6 L445.2,654.7 L446.2,654.7 L447.1,654.7 L448.0,654.8 L448.9,654.8 L449.8,654.8 L450.6,654.8 L451.4,654.8 L452.2,654.8 L453.0,654.8 L453.8,654.8 L454.6,654.8 L455.3,654.8 L456.0,654.8 L456.8,654.7 L457.5,654.7 L458.2,654.7 L458.9,654.7 L459.6,654.7 L460.3,654.6 L461.0,654.6 L461.7,654.6 L462.5,654.6 L463.2,654.5 L463.9,654.5 L464.6,654.5 L465.4,654.5Z" fill="#f4c80c" stroke="#5b4a12" stroke-width="0.8"/>
<path d="M518.7,718.0 L518.1,717.9 L517.6,717.8 L517.0,717.8 L516.4,717.7 L515.9,717.6 L515.3,717.5 L514.7,717.5 L514.2,717.4 L513.6,717.3 L513.0,717.3 L512.5,717.2 L511.9,717.1 L511.3,717.0 L510.8,717.0 L510.2,716.9 L509.6,716.8 L509.1,716.7 L508.5,716.6 L507.9,716.5 L507.4,716.5 L506.8,716.4 L506.2,716.3 L505.7,716.2 L505.1,716.1 L504.5,715.9 L504.0,715.8 L503.4,715.7 L502.8,715.6 L502.3,715.5 L501.7,715.4 L501.1,715.3 L500.6,715.2 L500.0,715.0 L499.4,714.9 L498.9,714.8 L498.3,714.7 L497.8,714.5 L497.2,714.4 L496.6,714.3 L496.1,714.1 L495.5,714.0 L494.9,713.8 L494.4,713.7 L493.8,713.5 L493.2,713.3 L492.7,713.2 L492.1,713.0 L491.5,712.8 L490.9,712.6 L490.4,712.4 L489.8,712.2 L489.2,712.0 L488.6,711.8 L488.0,711.6 L487.5,711.3 L486.9,711.1 L486.3,710.9 L485.7,710.6 L485.1,710.4 L484.6,710.2 L484.0,709.9 L483.4,709.7 L482.8,709.4 L482.2,709.1 L481.6,708.9 L481.1,708.6 L480.5,708.3 L479.9,708.1 L479.3,707.8 L478.7,707.5 L478.1,707.2 L477.5,706.9 L477.0,706.7 L476.4,706.4 L475.8,706.1 L475.2,705.7 L474.6,705.4 L473.9,705.1 L473.3,704.8 L472.7,704.4 L472.1,704.1 L471.5,703.8 L470.8,703.4 L470.2,703.1 L469.6,702.7 L469.0,702.4 L468.3,702.0 L467.7,701.7 L467.1,701.3 L466.5,701.0 L465.9,700.6 L465.2,700.2 L464.6,699.9 L464.0,699.5 L463.4,699.2 L462.8,698.8 L462.3,698.5 L461.7,698.1 L461.2,697.8 L460.7,697.5 L460.1,697.1 L459.6,696.8 L459.1,696.4 L458.6,696.1 L458.1,695.7 L457.6,695.4 L457.0,695.0 L456.5,694.7 L456.0,694.3 L455.5,694.0 L454.9,693.6 L454.4,693.2 L453.8,692.9 L453.3,692.5 L452.7,692.1 L452.1,691.8 L451.5,691.4 L450.9,691.0 L450.3,690.6 L449.6,690.2 L449.0,689.9 L448.3,689.5 L447.7,689.1 L447.0,688.7 L446.3,688.3 L445.6,687.9 L444.9,687.6 L444.2,687.2 L443.5,686.8 L442.7,686.4 L442.0,686.0 L441.3,685.6 L440.5,685.2 L439.8,684.8 L439.1,684.4 L438.3,684.0 L437.6,683.6 L436.8,683.2 L436.1,682.9 L435.4,682.5 L434.6,682.1 L433.9,681.7 L433.2,681.4 L432.5,681.0 L431.8,680.6 L431.1,680.3 L430.3,679.9 L429.6,679.6 L428.9,679.3 L428.2,678.9 L427.5,678.6 L426.8,678.2 L426.1,677.9 L425.4,677.6 L424.7,677.2 L424.0,676.9 L423.3,676.6 L422.5,676.3 L421.8,675.9 L421.1,675.6 L420.4,675.3 L419.7,675.0 L419.0,674.6 L418.3,674.3 L417.6,674.0 L416.9,673.7 L416.2,673.3 L415.5,673.0 L413.5,672.3 L411.5,672.0 L409.4,672.1 L407.4,672.6 L405.6,673.5 L403.9,674.7 L402.6,676.3 L401.5,678.0 L400.8,680.0 L400.5,682.0 L400.6,684.1 L401.1,686.1 L402.0,687.9 L403.2,689.6 L404.8,690.9 L406.5,692.0 L407.2,692.3 L407.9,692.7 L408.6,693.0 L409.4,693.3 L410.1,693.7 L410.8,694.0 L411.5,694.4 L412.2,694.7 L412.9,695.0 L413.6,695.4 L414.3,695.7 L415.0,696.0 L415.7,696.4 L416.4,696.7 L417.1,697.0 L417.8,697.4 L418.5,697.7 L419.2,698.0 L419.9,698.4 L420.6,698.7 L421.4,699.0 L422.1,699.4 L422.8,699.7 L423.5,700.0 L424.3,700.3 L425.0,700.6 L425.7,701.0 L426.5,701.3 L427.3,701.6 L428.0,701.9 L428.8,702.3 L429.6,702.6 L430.3,702.9 L431.1,703.2 L431.9,703.6 L432.6,703.9 L433.4,704.2 L434.2,704.5 L435.0,704.8 L435.7,705.1 L436.5,705.4 L437.2,705.7 L438.0,706.0 L438.7,706.3 L439.4,706.6 L440.2,706.8 L440.9,707.1 L441.6,707.4 L442.3,707.6 L442.9,707.8 L443.6,708.1 L444.2,708.3 L444.9,708.5 L445.5,708.7 L446.1,708.9 L446.8,709.1 L447.4,709.3 L448.0,709.5 L448.7,709.7 L449.3,709.9 L449.9,710.1 L450.5,710.3 L451.2,710.5 L451.8,710.6 L452.5,710.8 L453.1,711.0 L453.8,711.2 L454.4,711.4 L455.1,711.6 L455.8,711.8 L456.5,712.0 L457.2,712.2 L457.8,712.4 L458.5,712.6 L459.2,712.7 L459.9,712.9 L460.6,713.1 L461.4,713.3 L462.1,713.5 L462.8,713.7 L463.5,713.9 L464.2,714.1 L465.0,714.3 L465.7,714.5 L466.4,714.7 L467.2,714.9 L467.9,715.0 L468.7,715.2 L469.4,715.4 L470.1,715.6 L470.9,715.7 L471.6,715.9 L472.3,716.0 L473.0,716.2 L473.8,716.3 L474.5,716.5 L475.2,716.6 L475.9,716.7 L476.6,716.8 L477.3,716.9 L477.9,717.0 L478.6,717.1 L479.3,717.2 L480.0,717.3 L480.7,717.4 L481.4,717.4 L482.0,717.5 L482.7,717.6 L483.4,717.7 L484.0,717.7 L484.7,717.8 L485.3,717.8 L486.0,717.9 L486.6,717.9 L487.3,718.0 L487.9,718.0 L488.6,718.1 L489.2,718.1 L489.8,718.2 L490.5,718.2 L491.1,718.2 L491.7,718.3 L492.4,718.3 L493.0,718.3 L493.6,718.4 L494.2,718.4 L494.8,718.4 L495.4,718.5 L496.1,718.5 L496.7,718.5 L497.3,718.5 L497.8,718.5 L498.4,718.5 L499.0,718.5 L499.6,718.5 L500.2,718.5 L500.8,718.6 L501.4,718.6 L502.0,718.6 L502.6,718.6 L503.1,718.6 L503.7,718.6 L504.3,718.5 L504.9,718.5 L505.5,718.5 L506.1,718.5 L506.6,718.5 L507.2,718.5 L507.8,718.5 L508.4,718.5 L509.0,718.5 L509.5,718.4 L510.1,718.4 L510.7,718.4 L511.3,718.4 L511.8,718.3 L512.4,718.3 L513.0,718.3 L513.6,718.2 L514.1,718.2 L514.7,718.2 L515.3,718.2 L515.8,718.1 L516.4,718.1 L517.0,718.1 L517.6,718.0 L518.1,718.0 L518.7,718.0Z" fill="#f4c80c" stroke="#5b4a12" stroke-width="0.5"/>
<path d="M202.0,789.0 L201.5,789.0 L201.0,788.9 L200.5,788.9 L200.0,788.9 L199.5,788.8 L199.0,788.8 L198.5,788.8 L198.0,788.8 L197.5,788.7 L197.0,788.7 L196.5,788.7 L196.0,788.7 L195.6,788.6 L195.1,788.6 L194.6,788.6 L194.1,788.5 L193.6,788.5 L193.1,788.4 L192.6,788.4 L192.1,788.3 L191.6,788.2 L191.1,788.2 L190.6,788.1 L190.1,788.0 L189.6,787.9 L189.1,787.8 L188.6,787.7 L188.1,787.6 L187.6,787.5 L187.1,787.4 L186.6,787.2 L186.1,787.1 L185.7,787.0 L185.2,786.9 L184.7,786.7 L184.2,786.6 L183.7,786.4 L183.1,786.3 L182.6,786.1 L182.1,786.0 L181.5,785.8 L180.9,785.6 L180.3,785.4 L179.7,785.3 L179.1,785.1 L178.5,784.9 L177.8,784.7 L177.1,784.5 L176.4,784.3 L175.6,784.1 L174.9,783.9 L174.1,783.7 L173.3,783.5 L172.5,783.2 L171.7,783.0 L170.8,782.8 L170.0,782.6 L169.1,782.3 L168.3,782.1 L167.4,781.9 L166.5,781.6 L165.7,781.4 L164.8,781.1 L163.9,780.9 L163.1,780.6 L162.2,780.3 L161.4,780.0 L160.5,779.7 L159.7,779.4 L158.9,779.1 L158.1,778.8 L157.3,778.5 L156.5,778.2 L155.6,777.8 L154.8,777.4 L154.0,777.1 L153.1,776.7 L152.3,776.3 L151.4,775.9 L150.6,775.5 L149.7,775.0 L148.9,774.6 L148.0,774.2 L147.2,773.7 L146.3,773.3 L145.5,772.8 L144.6,772.4 L143.8,771.9 L142.9,771.5 L142.1,771.0 L141.3,770.6 L140.5,770.1 L139.6,769.7 L138.8,769.3 L138.1,768.8 L137.3,768.4 L136.5,768.0 L135.8,767.6 L135.1,767.2 L134.3,766.7 L133.6,766.3 L132.9,765.9 L132.1,765.5 L131.4,765.0 L130.7,764.6 L129.9,764.2 L129.2,763.7 L128.5,763.3 L127.8,762.9 L127.1,762.5 L126.4,762.0 L125.7,761.6 L125.1,761.2 L124.4,760.8 L123.7,760.4 L123.1,760.0 L122.4,759.5 L121.8,759.2 L121.2,758.8 L120.6,758.4 L120.0,758.0 L119.5,757.7 L119.0,757.3 L118.4,757.0 L117.9,756.7 L117.5,756.3 L117.0,756.0 L116.5,755.7 L116.0,755.4 L115.6,755.0 L115.1,754.7 L114.6,754.4 L114.2,754.1 L113.7,753.8 L113.3,753.4 L112.8,753.1 L112.4,752.8 L111.9,752.5 L111.5,752.2 L111.0,751.9 L110.6,751.6 L110.1,751.3 L109.6,750.9 L109.2,750.6 L108.7,750.4 L108.3,750.1 L107.9,749.8 L107.5,749.6 L107.1,749.3 L106.8,749.1 L106.4,748.8 L106.0,748.6 L105.7,748.4 L105.3,748.2 L105.0,747.9 L104.7,747.7 L104.3,747.5 L104.0,747.3 L103.7,747.1 L103.4,746.9 L103.1,746.7 L102.8,746.5 L102.4,746.3 L102.1,746.1 L101.8,745.9 L101.5,745.7 L101.2,745.5 L100.9,745.3 L98.8,744.4 L96.6,744.0 L94.3,744.0 L92.1,744.4 L90.0,745.2 L88.1,746.5 L86.5,748.1 L85.3,749.9 L84.4,752.0 L84.0,754.2 L84.0,756.5 L84.4,758.7 L85.2,760.8 L86.5,762.7 L88.1,764.3 L89.9,765.5 L90.3,765.7 L90.7,765.9 L91.1,766.0 L91.4,766.2 L91.8,766.3 L92.1,766.5 L92.5,766.6 L92.8,766.8 L93.2,766.9 L93.5,767.1 L93.8,767.2 L94.2,767.4 L94.5,767.5 L94.9,767.7 L95.2,767.8 L95.6,768.0 L95.9,768.1 L96.3,768.3 L96.6,768.5 L97.0,768.6 L97.4,768.8 L97.8,769.0 L98.2,769.2 L98.6,769.4 L99.0,769.5 L99.4,769.7 L99.8,769.9 L100.2,770.1 L100.7,770.4 L101.1,770.6 L101.6,770.8 L102.1,771.0 L102.5,771.3 L103.0,771.5 L103.5,771.8 L104.1,772.1 L104.6,772.3 L105.1,772.6 L105.7,772.9 L106.3,773.2 L106.9,773.5 L107.5,773.8 L108.1,774.1 L108.7,774.4 L109.4,774.7 L110.1,775.0 L110.8,775.3 L111.4,775.6 L112.1,775.9 L112.8,776.2 L113.5,776.5 L114.2,776.8 L114.9,777.1 L115.7,777.5 L116.4,777.8 L117.2,778.1 L118.0,778.5 L118.8,778.8 L119.6,779.1 L120.4,779.5 L121.2,779.8 L122.1,780.2 L122.9,780.5 L123.8,780.8 L124.6,781.2 L125.5,781.5 L126.4,781.8 L127.3,782.2 L128.2,782.5 L129.1,782.8 L130.0,783.1 L130.9,783.4 L131.8,783.7 L132.7,784.0 L133.6,784.2 L134.6,784.5 L135.5,784.8 L136.5,785.1 L137.4,785.3 L138.4,785.6 L139.4,785.8 L140.4,786.1 L141.4,786.4 L142.4,786.6 L143.4,786.9 L144.4,787.1 L145.4,787.3 L146.4,787.6 L147.4,787.8 L148.4,788.0 L149.4,788.2 L150.4,788.4 L151.4,788.6 L152.4,788.8 L153.4,788.9 L154.3,789.1 L155.3,789.3 L156.3,789.4 L157.3,789.5 L158.3,789.7 L159.3,789.8 L160.3,789.9 L161.2,790.0 L162.2,790.0 L163.2,790.1 L164.1,790.2 L165.1,790.2 L166.0,790.3 L167.0,790.3 L167.9,790.4 L168.8,790.4 L169.7,790.5 L170.5,790.5 L171.4,790.5 L172.2,790.6 L173.1,790.6 L173.8,790.6 L174.6,790.7 L175.4,790.7 L176.1,790.7 L176.8,790.7 L177.5,790.8 L178.2,790.8 L178.8,790.8 L179.5,790.8 L180.1,790.9 L180.7,790.9 L181.3,790.9 L181.9,790.9 L182.4,790.9 L183.0,790.9 L183.5,791.0 L184.1,791.0 L184.6,791.0 L185.1,791.0 L185.7,791.0 L186.2,791.0 L186.7,790.9 L187.3,790.9 L187.8,790.9 L188.3,790.9 L188.8,790.9 L189.4,790.8 L189.9,790.8 L190.5,790.8 L191.0,790.7 L191.5,790.7 L192.1,790.6 L192.6,790.5 L193.1,790.5 L193.6,790.4 L194.1,790.3 L194.6,790.3 L195.1,790.2 L195.6,790.1 L196.1,790.0 L196.6,789.9 L197.1,789.8 L197.6,789.8 L198.1,789.7 L198.6,789.6 L199.1,789.5 L199.5,789.4 L200.0,789.3 L200.5,789.2 L201.0,789.2 L201.5,789.1 L202.0,789.0Z" fill="#e9c413"/>
<text x="414.6" y="694" font-family="'Liberation Sans', sans-serif" font-size="18" text-anchor="middle" fill="#4a4020">1</text>
<text x="702" y="652" font-family="'Liberation Sans', sans-serif" font-size="20" text-anchor="middle" fill="#4a4020">2</text>
<text x="317.5" y="597" font-family="'Liberation Sans', sans-serif" font-size="20" text-anchor="middle" fill="#4a4020">3</text>
<text x="800.5" y="550" font-family="'Liberation Sans', sans-serif" font-size="21" text-anchor="middle" fill="#4a4020">4</text>
<text x="234.5" y="438.7" font-family="'Liberation Sans', sans-serif" font-size="24" text-anchor="middle" fill="#4a4020">5</text>
<g stroke="#2bbfc0" stroke-width="1.2" fill="none">
<path d="M510.2,760.4 L510.4,727"/><path d="M510.2,760.4 L395,745.5"/><path d="M395,745.5 L355,740.3" stroke-dasharray="5 6" opacity="0.6"/>
<path d="M510.2,760.4 L620,746"/><path d="M620,746 L660,741" stroke-dasharray="5 6" opacity="0.6"/>
<path d="M510.2,760.4 L418.3,812"/><path d="M510.2,760.4 L610,816.7"/>
</g>
<circle cx="510.3" cy="727" r="2" fill="#7fe07f"/>
</svg></body></html>
